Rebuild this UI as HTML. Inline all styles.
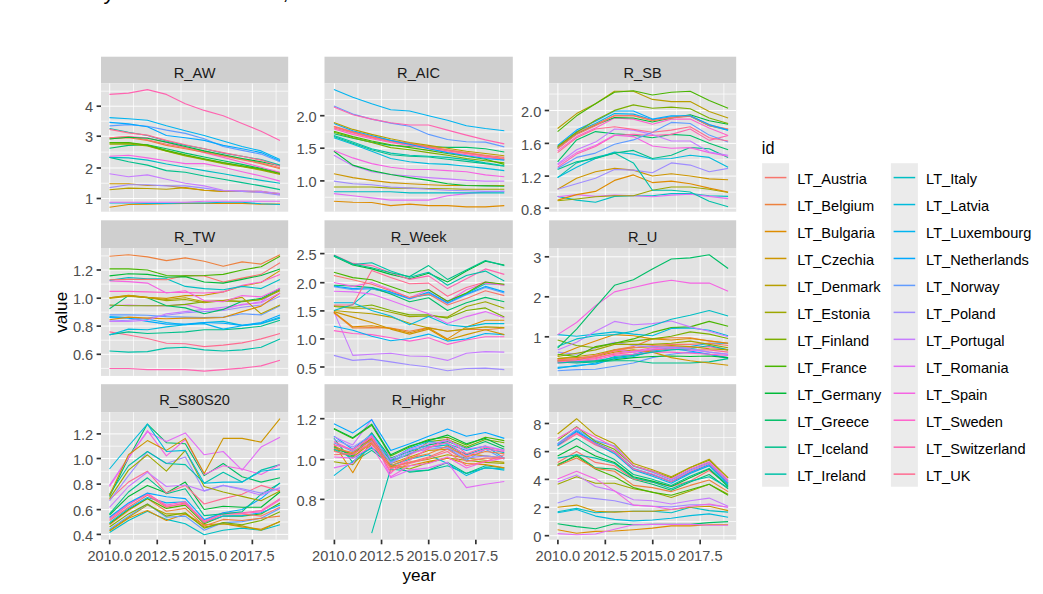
<!DOCTYPE html>
<html><head><meta charset="utf-8"><title>plot</title>
<style>html,body{margin:0;padding:0;background:#fff;}body{width:1043px;height:594px;overflow:hidden;}svg text{font-family:"Liberation Sans",sans-serif;}</style>
</head><body>
<svg width="1043" height="594" viewBox="0 0 1043 594" style="display:block">
<rect width="1043" height="594" fill="#fff"/>
<defs>
<clipPath id="c0"><rect x="101.0" y="83.2" width="187.2" height="128.5"/></clipPath>
<clipPath id="c1"><rect x="324.5" y="83.2" width="188.3" height="128.5"/></clipPath>
<clipPath id="c2"><rect x="549.1" y="83.2" width="187.1" height="128.5"/></clipPath>
<clipPath id="c3"><rect x="101.0" y="248.0" width="187.2" height="127.9"/></clipPath>
<clipPath id="c4"><rect x="324.5" y="248.0" width="188.3" height="127.9"/></clipPath>
<clipPath id="c5"><rect x="549.1" y="248.0" width="187.1" height="127.9"/></clipPath>
<clipPath id="c6"><rect x="101.0" y="412.1" width="187.2" height="127.6"/></clipPath>
<clipPath id="c7"><rect x="324.5" y="412.1" width="188.3" height="127.6"/></clipPath>
<clipPath id="c8"><rect x="549.1" y="412.1" width="187.1" height="127.6"/></clipPath>
</defs>
<text x="103.5" y="-1.5" font-family="Liberation Serif, serif" font-size="22" fill="#000">y</text>
<text x="282.5" y="-1.2" font-family="Liberation Serif, serif" font-size="22" fill="#000">,</text>
<rect x="101.0" y="56.7" width="187.2" height="26.5" fill="#CFCFCF"/>
<rect x="101.0" y="83.2" width="187.2" height="128.5" fill="#E2E2E2"/>
<g clip-path="url(#c0)">
<line x1="101.0" x2="288.2" y1="183.25" y2="183.25" stroke="#fff" stroke-width="0.7"/>
<line x1="101.0" x2="288.2" y1="152.10" y2="152.10" stroke="#fff" stroke-width="0.7"/>
<line x1="101.0" x2="288.2" y1="121.20" y2="121.20" stroke="#fff" stroke-width="0.7"/>
<line x1="101.0" x2="288.2" y1="91.20" y2="91.20" stroke="#fff" stroke-width="0.7"/>
<line x1="133.47" x2="133.47" y1="83.2" y2="211.7" stroke="#fff" stroke-width="0.7"/>
<line x1="181.03" x2="181.03" y1="83.2" y2="211.7" stroke="#fff" stroke-width="0.7"/>
<line x1="228.57" x2="228.57" y1="83.2" y2="211.7" stroke="#fff" stroke-width="0.7"/>
<line x1="276.12" x2="276.12" y1="83.2" y2="211.7" stroke="#fff" stroke-width="0.7"/>
<line x1="101.0" x2="288.2" y1="198.50" y2="198.50" stroke="#fff" stroke-width="0.95"/>
<line x1="101.0" x2="288.2" y1="168.00" y2="168.00" stroke="#fff" stroke-width="0.95"/>
<line x1="101.0" x2="288.2" y1="136.20" y2="136.20" stroke="#fff" stroke-width="0.95"/>
<line x1="101.0" x2="288.2" y1="106.20" y2="106.20" stroke="#fff" stroke-width="0.95"/>
<line x1="109.70" x2="109.70" y1="83.2" y2="211.7" stroke="#fff" stroke-width="0.95"/>
<line x1="157.25" x2="157.25" y1="83.2" y2="211.7" stroke="#fff" stroke-width="0.95"/>
<line x1="204.80" x2="204.80" y1="83.2" y2="211.7" stroke="#fff" stroke-width="0.95"/>
<line x1="252.35" x2="252.35" y1="83.2" y2="211.7" stroke="#fff" stroke-width="0.95"/>
<polyline points="109.5,189.8 128.5,188.1 147.4,188.5 166.4,189.2 185.3,187.6 204.2,190.3 223.2,191.4 242.1,191.4 261.1,191.4 280.0,194.2" fill="none" stroke="#B79F00" stroke-width="1.1" stroke-linejoin="round" stroke-linecap="butt"/>
<polyline points="109.5,183.7 128.5,183.7 147.4,185.5 166.4,185.5 185.3,188.1 204.2,190.3 223.2,191.4 242.1,191.4 261.1,192.0 280.0,193.6" fill="none" stroke="#CD9600" stroke-width="1.1" stroke-linejoin="round" stroke-linecap="butt"/>
<polyline points="109.5,187.6 128.5,184.8 147.4,184.8 166.4,185.9 185.3,185.9 204.2,188.1 223.2,190.7 242.1,191.4 261.1,192.5 280.0,195.1" fill="none" stroke="#9F8CFF" stroke-width="1.1" stroke-linejoin="round" stroke-linecap="butt"/>
<polyline points="109.5,173.8 128.5,176.7 147.4,174.9 166.4,179.3 185.3,183.3 204.2,185.9 223.2,190.3 242.1,190.7 261.1,191.4 280.0,193.6" fill="none" stroke="#C77CFF" stroke-width="1.1" stroke-linejoin="round" stroke-linecap="butt"/>
<polyline points="109.5,207.3 128.5,204.5 147.4,204.1 166.4,203.8 185.3,203.4 204.2,203.4 223.2,203.4 242.1,203.4 261.1,204.1 280.0,204.1" fill="none" stroke="#DE8C00" stroke-width="1.1" stroke-linejoin="round" stroke-linecap="butt"/>
<polyline points="109.5,203.0 128.5,203.0 147.4,203.4 166.4,203.4 185.3,203.0 204.2,203.0 223.2,202.3 242.1,202.3 261.1,203.8 280.0,204.5" fill="none" stroke="#00BBDC" stroke-width="1.1" stroke-linejoin="round" stroke-linecap="butt"/>
<polyline points="109.5,202.3 128.5,202.3 147.4,202.3 166.4,202.3 185.3,202.3 204.2,201.2 223.2,201.2 242.1,201.2 261.1,201.2 280.0,201.2" fill="none" stroke="#E36EF6" stroke-width="1.1" stroke-linejoin="round" stroke-linecap="butt"/>
<polyline points="109.5,157.4 128.5,161.8 147.4,165.1 166.4,170.6 185.3,172.3 204.2,176.0 223.2,179.3 242.1,182.6 261.1,185.9 280.0,189.6" fill="none" stroke="#00C08B" stroke-width="1.1" stroke-linejoin="round" stroke-linecap="butt"/>
<polyline points="109.5,157.4 128.5,157.9 147.4,160.1 166.4,164.0 185.3,167.3 204.2,170.6 223.2,173.8 242.1,177.1 261.1,180.4 280.0,183.3" fill="none" stroke="#00BFC4" stroke-width="1.1" stroke-linejoin="round" stroke-linecap="butt"/>
<polyline points="109.5,156.3 128.5,155.2 147.4,157.9 166.4,160.7 185.3,163.6 204.2,163.6 223.2,167.3 242.1,171.7 261.1,176.0 280.0,181.1" fill="none" stroke="#F564E3" stroke-width="1.1" stroke-linejoin="round" stroke-linecap="butt"/>
<polyline points="109.5,148.2 128.5,145.4 147.4,144.7 166.4,148.7 185.3,153.1 204.2,157.0 223.2,160.7 242.1,164.4 261.1,168.4 280.0,172.8" fill="none" stroke="#00BE67" stroke-width="1.1" stroke-linejoin="round" stroke-linecap="butt"/>
<polyline points="109.5,144.3 128.5,143.9 147.4,146.0 166.4,151.3 185.3,155.9 204.2,159.6 223.2,163.6 242.1,166.8 261.1,170.1 280.0,174.5" fill="none" stroke="#9DA700" stroke-width="1.1" stroke-linejoin="round" stroke-linecap="butt"/>
<polyline points="109.5,143.2 128.5,143.0 147.4,145.4 166.4,150.9 185.3,155.2 204.2,159.2 223.2,162.9 242.1,166.2 261.1,169.5 280.0,173.8" fill="none" stroke="#7CAE00" stroke-width="1.1" stroke-linejoin="round" stroke-linecap="butt"/>
<polyline points="109.5,142.5 128.5,142.5 147.4,145.0 166.4,150.4 185.3,154.8 204.2,158.7 223.2,162.5 242.1,165.7 261.1,169.0 280.0,173.2" fill="none" stroke="#49B500" stroke-width="1.1" stroke-linejoin="round" stroke-linecap="butt"/>
<polyline points="109.5,137.7 128.5,136.6 147.4,137.7 166.4,142.5 185.3,147.6 204.2,152.6 223.2,157.4 242.1,162.2 261.1,167.3 280.0,172.3" fill="none" stroke="#FF61CC" stroke-width="1.1" stroke-linejoin="round" stroke-linecap="butt"/>
<polyline points="109.5,138.8 128.5,137.7 147.4,140.4 166.4,145.4 185.3,148.7 204.2,152.2 223.2,155.9 242.1,159.6 261.1,163.6 280.0,168.8" fill="none" stroke="#ED813E" stroke-width="1.1" stroke-linejoin="round" stroke-linecap="butt"/>
<polyline points="109.5,137.7 128.5,136.6 147.4,139.9 166.4,144.3 185.3,147.8 204.2,151.3 223.2,155.2 242.1,159.2 261.1,162.9 280.0,167.9" fill="none" stroke="#F8766D" stroke-width="1.1" stroke-linejoin="round" stroke-linecap="butt"/>
<polyline points="109.5,139.0 128.5,137.3 147.4,138.2 166.4,142.1 185.3,146.5 204.2,150.9 223.2,154.8 242.1,158.5 261.1,161.8 280.0,165.7" fill="none" stroke="#00BA38" stroke-width="1.1" stroke-linejoin="round" stroke-linecap="butt"/>
<polyline points="109.5,128.5 128.5,132.3 147.4,135.5 166.4,141.0 185.3,145.4 204.2,148.7 223.2,153.1 242.1,156.3 261.1,159.6 280.0,165.1" fill="none" stroke="#00C1A9" stroke-width="1.1" stroke-linejoin="round" stroke-linecap="butt"/>
<polyline points="109.5,129.4 128.5,132.9 147.4,135.1 166.4,140.4 185.3,144.7 204.2,148.7 223.2,152.6 242.1,156.3 261.1,160.1 280.0,166.2" fill="none" stroke="#FF6C91" stroke-width="1.1" stroke-linejoin="round" stroke-linecap="butt"/>
<polyline points="109.5,125.9 128.5,124.6 147.4,126.3 166.4,130.1 185.3,133.4 204.2,138.8 223.2,146.5 242.1,150.4 261.1,154.1 280.0,161.8" fill="none" stroke="#619CFF" stroke-width="1.1" stroke-linejoin="round" stroke-linecap="butt"/>
<polyline points="109.5,122.4 128.5,123.9 147.4,126.8 166.4,135.5 185.3,137.7 204.2,140.4 223.2,145.4 242.1,148.7 261.1,152.6 280.0,160.7" fill="none" stroke="#00A9FF" stroke-width="1.1" stroke-linejoin="round" stroke-linecap="butt"/>
<polyline points="109.5,117.6 128.5,118.7 147.4,120.2 166.4,125.7 185.3,130.7 204.2,135.5 223.2,141.0 242.1,146.5 261.1,150.9 280.0,159.6" fill="none" stroke="#00B4F0" stroke-width="1.1" stroke-linejoin="round" stroke-linecap="butt"/>
<polyline points="109.5,94.4 128.5,93.1 147.4,89.6 166.4,94.4 185.3,103.8 204.2,110.4 223.2,115.8 242.1,123.5 261.1,131.2 280.0,140.4" fill="none" stroke="#FF64B0" stroke-width="1.1" stroke-linejoin="round" stroke-linecap="butt"/>
</g>
<text x="194.6" y="77.7" text-anchor="middle" font-size="14.6" fill="#1A1A1A">R_AW</text>
<line x1="96.6" x2="101.0" y1="198.50" y2="198.50" stroke="#333" stroke-width="1.7"/>
<text x="93.2" y="204.2" text-anchor="end" font-size="14.6" fill="#4D4D4D">1</text>
<line x1="96.6" x2="101.0" y1="168.00" y2="168.00" stroke="#333" stroke-width="1.7"/>
<text x="93.2" y="173.7" text-anchor="end" font-size="14.6" fill="#4D4D4D">2</text>
<line x1="96.6" x2="101.0" y1="136.20" y2="136.20" stroke="#333" stroke-width="1.7"/>
<text x="93.2" y="141.9" text-anchor="end" font-size="14.6" fill="#4D4D4D">3</text>
<line x1="96.6" x2="101.0" y1="106.20" y2="106.20" stroke="#333" stroke-width="1.7"/>
<text x="93.2" y="111.9" text-anchor="end" font-size="14.6" fill="#4D4D4D">4</text>
<rect x="324.5" y="56.7" width="188.3" height="26.5" fill="#CFCFCF"/>
<rect x="324.5" y="83.2" width="188.3" height="128.5" fill="#E2E2E2"/>
<g clip-path="url(#c1)">
<line x1="324.5" x2="512.8" y1="197.25" y2="197.25" stroke="#fff" stroke-width="0.7"/>
<line x1="324.5" x2="512.8" y1="164.55" y2="164.55" stroke="#fff" stroke-width="0.7"/>
<line x1="324.5" x2="512.8" y1="131.95" y2="131.95" stroke="#fff" stroke-width="0.7"/>
<line x1="324.5" x2="512.8" y1="99.45" y2="99.45" stroke="#fff" stroke-width="0.7"/>
<line x1="357.97" x2="357.97" y1="83.2" y2="211.7" stroke="#fff" stroke-width="0.7"/>
<line x1="405.12" x2="405.12" y1="83.2" y2="211.7" stroke="#fff" stroke-width="0.7"/>
<line x1="452.27" x2="452.27" y1="83.2" y2="211.7" stroke="#fff" stroke-width="0.7"/>
<line x1="499.42" x2="499.42" y1="83.2" y2="211.7" stroke="#fff" stroke-width="0.7"/>
<line x1="324.5" x2="512.8" y1="180.90" y2="180.90" stroke="#fff" stroke-width="0.95"/>
<line x1="324.5" x2="512.8" y1="148.20" y2="148.20" stroke="#fff" stroke-width="0.95"/>
<line x1="324.5" x2="512.8" y1="115.70" y2="115.70" stroke="#fff" stroke-width="0.95"/>
<line x1="334.40" x2="334.40" y1="83.2" y2="211.7" stroke="#fff" stroke-width="0.95"/>
<line x1="381.55" x2="381.55" y1="83.2" y2="211.7" stroke="#fff" stroke-width="0.95"/>
<line x1="428.70" x2="428.70" y1="83.2" y2="211.7" stroke="#fff" stroke-width="0.95"/>
<line x1="475.85" x2="475.85" y1="83.2" y2="211.7" stroke="#fff" stroke-width="0.95"/>
<polyline points="333.9,201.2 352.8,202.3 371.7,202.5 390.7,205.6 409.6,204.1 428.6,205.6 447.5,205.6 466.4,206.9 485.4,206.9 504.3,205.6" fill="none" stroke="#DE8C00" stroke-width="1.1" stroke-linejoin="round" stroke-linecap="butt"/>
<polyline points="333.9,193.6 352.8,195.7 371.7,197.9 390.7,200.1 409.6,200.1 428.6,200.1 447.5,195.7 466.4,193.6 485.4,192.0 504.3,191.4" fill="none" stroke="#E36EF6" stroke-width="1.1" stroke-linejoin="round" stroke-linecap="butt"/>
<polyline points="333.9,191.8 352.8,191.8 371.7,191.8 390.7,191.8 409.6,192.9 428.6,192.9 447.5,192.9 466.4,192.9 485.4,192.9 504.3,192.9" fill="none" stroke="#00BFC4" stroke-width="1.1" stroke-linejoin="round" stroke-linecap="butt"/>
<polyline points="333.9,187.0 352.8,187.0 371.7,187.0 390.7,188.1 409.6,188.1 428.6,188.5 447.5,188.7 466.4,189.2 485.4,189.2 504.3,189.2" fill="none" stroke="#9DA700" stroke-width="1.1" stroke-linejoin="round" stroke-linecap="butt"/>
<polyline points="333.9,181.1 352.8,183.7 371.7,184.8 390.7,187.0 409.6,188.1 428.6,189.2 447.5,190.3 466.4,190.7 485.4,191.4 504.3,191.4" fill="none" stroke="#9F8CFF" stroke-width="1.1" stroke-linejoin="round" stroke-linecap="butt"/>
<polyline points="333.9,173.8 352.8,177.6 371.7,180.4 390.7,182.6 409.6,183.7 428.6,184.8 447.5,185.5 466.4,185.5 485.4,185.5 504.3,185.5" fill="none" stroke="#CD9600" stroke-width="1.1" stroke-linejoin="round" stroke-linecap="butt"/>
<polyline points="333.9,155.2 352.8,165.7 371.7,171.7 390.7,174.5 409.6,176.0 428.6,177.6 447.5,178.9 466.4,180.4 485.4,181.1 504.3,181.1" fill="none" stroke="#C77CFF" stroke-width="1.1" stroke-linejoin="round" stroke-linecap="butt"/>
<polyline points="333.9,151.3 352.8,165.1 371.7,170.6 390.7,174.5 409.6,177.6 428.6,180.4 447.5,183.7 466.4,185.5 485.4,185.9 504.3,186.3" fill="none" stroke="#00BA38" stroke-width="1.1" stroke-linejoin="round" stroke-linecap="butt"/>
<polyline points="333.9,150.4 352.8,157.9 371.7,163.6 390.7,167.3 409.6,169.5 428.6,169.5 447.5,170.6 466.4,171.7 485.4,174.9 504.3,176.7" fill="none" stroke="#F564E3" stroke-width="1.1" stroke-linejoin="round" stroke-linecap="butt"/>
<polyline points="333.9,137.7 352.8,144.3 371.7,151.3 390.7,158.5 409.6,161.8 428.6,163.6 447.5,164.4 466.4,166.2 485.4,168.4 504.3,170.6" fill="none" stroke="#00BBDC" stroke-width="1.1" stroke-linejoin="round" stroke-linecap="butt"/>
<polyline points="333.9,136.6 352.8,143.2 371.7,149.8 390.7,154.8 409.6,156.3 428.6,157.0 447.5,159.2 466.4,161.4 485.4,163.6 504.3,166.2" fill="none" stroke="#00C08B" stroke-width="1.1" stroke-linejoin="round" stroke-linecap="butt"/>
<polyline points="333.9,135.5 352.8,142.1 371.7,148.7 390.7,153.1 409.6,155.2 428.6,156.3 447.5,157.4 466.4,159.6 485.4,162.9 504.3,165.7" fill="none" stroke="#00C1A9" stroke-width="1.1" stroke-linejoin="round" stroke-linecap="butt"/>
<polyline points="333.9,133.8 352.8,138.2 371.7,142.1 390.7,145.4 409.6,146.5 428.6,146.9 447.5,147.4 466.4,147.4 485.4,148.7 504.3,152.0" fill="none" stroke="#00BE67" stroke-width="1.1" stroke-linejoin="round" stroke-linecap="butt"/>
<polyline points="333.9,132.3 352.8,137.7 371.7,142.5 390.7,147.6 409.6,149.8 428.6,152.6 447.5,155.2 466.4,158.5 485.4,160.7 504.3,162.9" fill="none" stroke="#7CAE00" stroke-width="1.1" stroke-linejoin="round" stroke-linecap="butt"/>
<polyline points="333.9,131.2 352.8,136.6 371.7,141.0 390.7,144.7 409.6,147.6 428.6,150.4 447.5,153.5 466.4,156.3 485.4,159.2 504.3,164.4" fill="none" stroke="#49B500" stroke-width="1.1" stroke-linejoin="round" stroke-linecap="butt"/>
<polyline points="333.9,129.0 352.8,134.4 371.7,138.8 390.7,142.5 409.6,145.4 428.6,148.7 447.5,152.0 466.4,154.8 485.4,157.4 504.3,159.6" fill="none" stroke="#FF61CC" stroke-width="1.1" stroke-linejoin="round" stroke-linecap="butt"/>
<polyline points="333.9,126.8 352.8,132.3 371.7,137.3 390.7,141.0 409.6,143.9 428.6,146.9 447.5,150.0 466.4,153.1 485.4,155.7 504.3,159.2" fill="none" stroke="#ED813E" stroke-width="1.1" stroke-linejoin="round" stroke-linecap="butt"/>
<polyline points="333.9,127.9 352.8,132.9 371.7,137.7 390.7,141.7 409.6,144.7 428.6,147.6 447.5,150.9 466.4,153.5 485.4,156.3 504.3,158.5" fill="none" stroke="#FF6C91" stroke-width="1.1" stroke-linejoin="round" stroke-linecap="butt"/>
<polyline points="333.9,126.3 352.8,131.6 371.7,136.6 390.7,140.4 409.6,143.2 428.6,146.5 447.5,149.8 466.4,152.6 485.4,155.2 504.3,157.4" fill="none" stroke="#F8766D" stroke-width="1.1" stroke-linejoin="round" stroke-linecap="butt"/>
<polyline points="333.9,123.5 352.8,130.7 371.7,135.5 390.7,140.4 409.6,144.3 428.6,148.7 447.5,152.6 466.4,155.7 485.4,158.5 504.3,160.1" fill="none" stroke="#00A9FF" stroke-width="1.1" stroke-linejoin="round" stroke-linecap="butt"/>
<polyline points="333.9,122.4 352.8,129.4 371.7,134.4 390.7,138.8 409.6,142.5 428.6,145.4 447.5,148.2 466.4,151.3 485.4,153.5 504.3,155.7" fill="none" stroke="#B79F00" stroke-width="1.1" stroke-linejoin="round" stroke-linecap="butt"/>
<polyline points="333.9,106.0 352.8,114.1 371.7,119.1 390.7,123.1 409.6,126.3 428.6,134.4 447.5,139.5 466.4,141.7 485.4,142.1 504.3,146.9" fill="none" stroke="#619CFF" stroke-width="1.1" stroke-linejoin="round" stroke-linecap="butt"/>
<polyline points="333.9,107.1 352.8,114.7 371.7,119.1 390.7,122.8 409.6,125.0 428.6,125.0 447.5,130.1 466.4,135.1 485.4,139.9 504.3,143.9" fill="none" stroke="#FF64B0" stroke-width="1.1" stroke-linejoin="round" stroke-linecap="butt"/>
<polyline points="333.9,89.6 352.8,97.2 371.7,103.8 390.7,109.7 409.6,111.0 428.6,115.8 447.5,120.2 466.4,125.7 485.4,128.5 504.3,130.7" fill="none" stroke="#00B4F0" stroke-width="1.1" stroke-linejoin="round" stroke-linecap="butt"/>
</g>
<text x="418.6" y="77.7" text-anchor="middle" font-size="14.6" fill="#1A1A1A">R_AIC</text>
<line x1="320.1" x2="324.5" y1="180.90" y2="180.90" stroke="#333" stroke-width="1.7"/>
<text x="316.7" y="187.1" text-anchor="end" font-size="14.6" fill="#4D4D4D">1.0</text>
<line x1="320.1" x2="324.5" y1="148.20" y2="148.20" stroke="#333" stroke-width="1.7"/>
<text x="316.7" y="154.4" text-anchor="end" font-size="14.6" fill="#4D4D4D">1.5</text>
<line x1="320.1" x2="324.5" y1="115.70" y2="115.70" stroke="#333" stroke-width="1.7"/>
<text x="316.7" y="121.9" text-anchor="end" font-size="14.6" fill="#4D4D4D">2.0</text>
<rect x="549.1" y="56.7" width="187.1" height="26.5" fill="#CFCFCF"/>
<rect x="549.1" y="83.2" width="187.1" height="128.5" fill="#E2E2E2"/>
<g clip-path="url(#c2)">
<line x1="549.1" x2="736.2" y1="192.15" y2="192.15" stroke="#fff" stroke-width="0.7"/>
<line x1="549.1" x2="736.2" y1="159.75" y2="159.75" stroke="#fff" stroke-width="0.7"/>
<line x1="549.1" x2="736.2" y1="126.95" y2="126.95" stroke="#fff" stroke-width="0.7"/>
<line x1="549.1" x2="736.2" y1="94.05" y2="94.05" stroke="#fff" stroke-width="0.7"/>
<line x1="581.61" x2="581.61" y1="83.2" y2="211.7" stroke="#fff" stroke-width="0.7"/>
<line x1="629.04" x2="629.04" y1="83.2" y2="211.7" stroke="#fff" stroke-width="0.7"/>
<line x1="676.46" x2="676.46" y1="83.2" y2="211.7" stroke="#fff" stroke-width="0.7"/>
<line x1="723.89" x2="723.89" y1="83.2" y2="211.7" stroke="#fff" stroke-width="0.7"/>
<line x1="549.1" x2="736.2" y1="208.20" y2="208.20" stroke="#fff" stroke-width="0.95"/>
<line x1="549.1" x2="736.2" y1="176.10" y2="176.10" stroke="#fff" stroke-width="0.95"/>
<line x1="549.1" x2="736.2" y1="143.40" y2="143.40" stroke="#fff" stroke-width="0.95"/>
<line x1="549.1" x2="736.2" y1="110.50" y2="110.50" stroke="#fff" stroke-width="0.95"/>
<line x1="557.90" x2="557.90" y1="83.2" y2="211.7" stroke="#fff" stroke-width="0.95"/>
<line x1="605.32" x2="605.32" y1="83.2" y2="211.7" stroke="#fff" stroke-width="0.95"/>
<line x1="652.75" x2="652.75" y1="83.2" y2="211.7" stroke="#fff" stroke-width="0.95"/>
<line x1="700.17" x2="700.17" y1="83.2" y2="211.7" stroke="#fff" stroke-width="0.95"/>
<polyline points="557.6,196.4 576.6,200.1 595.5,202.3 614.5,196.4 633.4,195.7 652.4,195.7 671.3,193.6 690.2,193.6 709.2,195.7 728.1,196.4" fill="none" stroke="#00BFC4" stroke-width="1.1" stroke-linejoin="round" stroke-linecap="butt"/>
<polyline points="557.6,196.8 576.6,194.6 595.5,196.4 614.5,195.1 633.4,195.7 652.4,196.8 671.3,195.1 690.2,194.2 709.2,196.4 728.1,198.6" fill="none" stroke="#E36EF6" stroke-width="1.1" stroke-linejoin="round" stroke-linecap="butt"/>
<polyline points="557.6,200.8 576.6,199.0 595.5,196.8 614.5,195.7 633.4,195.7 652.4,190.3 671.3,187.0 690.2,187.0 709.2,189.2 728.1,192.5" fill="none" stroke="#9DA700" stroke-width="1.1" stroke-linejoin="round" stroke-linecap="butt"/>
<polyline points="557.6,200.1 576.6,194.6 595.5,191.4 614.5,180.4 633.4,174.9 652.4,182.6 671.3,181.1 690.2,183.7 709.2,188.1 728.1,192.0" fill="none" stroke="#DE8C00" stroke-width="1.1" stroke-linejoin="round" stroke-linecap="butt"/>
<polyline points="557.6,189.2 576.6,178.2 595.5,171.7 614.5,168.4 633.4,170.1 652.4,176.0 671.3,173.8 690.2,176.0 709.2,178.9 728.1,179.8" fill="none" stroke="#CD9600" stroke-width="1.1" stroke-linejoin="round" stroke-linecap="butt"/>
<polyline points="557.6,189.2 576.6,183.7 595.5,178.2 614.5,169.5 633.4,170.1 652.4,172.8 671.3,162.9 690.2,165.1 709.2,171.7 728.1,168.4" fill="none" stroke="#9F8CFF" stroke-width="1.1" stroke-linejoin="round" stroke-linecap="butt"/>
<polyline points="557.6,177.6 576.6,162.9 595.5,157.4 614.5,153.1 633.4,162.9 652.4,190.3 671.3,190.3 690.2,192.0 709.2,201.2 728.1,206.7" fill="none" stroke="#00C1A9" stroke-width="1.1" stroke-linejoin="round" stroke-linecap="butt"/>
<polyline points="557.6,177.6 576.6,167.3 595.5,158.5 614.5,152.0 633.4,154.1 652.4,159.2 671.3,158.5 690.2,155.2 709.2,157.4 728.1,167.3" fill="none" stroke="#00BBDC" stroke-width="1.1" stroke-linejoin="round" stroke-linecap="butt"/>
<polyline points="557.6,169.5 576.6,161.8 595.5,158.5 614.5,153.1 633.4,150.4 652.4,158.5 671.3,155.2 690.2,147.6 709.2,148.7 728.1,157.4" fill="none" stroke="#00C08B" stroke-width="1.1" stroke-linejoin="round" stroke-linecap="butt"/>
<polyline points="557.6,161.8 576.6,139.9 595.5,131.6 614.5,133.8 633.4,135.1 652.4,137.7 671.3,134.4 690.2,135.5 709.2,143.2 728.1,149.8" fill="none" stroke="#00BE67" stroke-width="1.1" stroke-linejoin="round" stroke-linecap="butt"/>
<polyline points="557.6,167.3 576.6,154.1 595.5,146.5 614.5,135.5 633.4,134.4 652.4,135.5 671.3,134.4 690.2,129.0 709.2,140.4 728.1,135.5" fill="none" stroke="#FF64B0" stroke-width="1.1" stroke-linejoin="round" stroke-linecap="butt"/>
<polyline points="557.6,165.1 576.6,152.6 595.5,145.4 614.5,135.1 633.4,136.6 652.4,146.0 671.3,148.2 690.2,147.6 709.2,152.6 728.1,156.3" fill="none" stroke="#F564E3" stroke-width="1.1" stroke-linejoin="round" stroke-linecap="butt"/>
<polyline points="557.6,164.0 576.6,149.8 595.5,142.1 614.5,129.0 633.4,130.1 652.4,134.4 671.3,141.0 690.2,141.0 709.2,152.0 728.1,155.2" fill="none" stroke="#C77CFF" stroke-width="1.1" stroke-linejoin="round" stroke-linecap="butt"/>
<polyline points="557.6,168.4 576.6,157.4 595.5,153.1 614.5,144.3 633.4,139.9 652.4,132.3 671.3,122.4 690.2,123.5 709.2,135.1 728.1,142.1" fill="none" stroke="#619CFF" stroke-width="1.1" stroke-linejoin="round" stroke-linecap="butt"/>
<polyline points="557.6,152.6 576.6,137.7 595.5,129.0 614.5,126.8 633.4,129.4 652.4,132.3 671.3,130.1 690.2,126.8 709.2,137.7 728.1,141.0" fill="none" stroke="#FF6C91" stroke-width="1.1" stroke-linejoin="round" stroke-linecap="butt"/>
<polyline points="557.6,150.9 576.6,136.6 595.5,127.9 614.5,118.0 633.4,119.1 652.4,124.2 671.3,119.1 690.2,119.1 709.2,127.9 728.1,135.5" fill="none" stroke="#FF61CC" stroke-width="1.1" stroke-linejoin="round" stroke-linecap="butt"/>
<polyline points="557.6,146.9 576.6,131.6 595.5,123.5 614.5,113.6 633.4,114.1 652.4,119.8 671.3,116.9 690.2,116.3 709.2,125.7 728.1,130.1" fill="none" stroke="#00B4F0" stroke-width="1.1" stroke-linejoin="round" stroke-linecap="butt"/>
<polyline points="557.6,148.2 576.6,133.8 595.5,125.0 614.5,117.6 633.4,118.0 652.4,122.0 671.3,118.0 690.2,114.7 709.2,120.7 728.1,124.2" fill="none" stroke="#00BA38" stroke-width="1.1" stroke-linejoin="round" stroke-linecap="butt"/>
<polyline points="557.6,147.6 576.6,132.9 595.5,124.6 614.5,115.4 633.4,115.8 652.4,120.7 671.3,118.0 690.2,116.3 709.2,125.7 728.1,129.4" fill="none" stroke="#ED813E" stroke-width="1.1" stroke-linejoin="round" stroke-linecap="butt"/>
<polyline points="557.6,148.7 576.6,134.4 595.5,125.7 614.5,115.8 633.4,115.4 652.4,120.2 671.3,117.6 690.2,115.8 709.2,125.0 728.1,129.0" fill="none" stroke="#F8766D" stroke-width="1.1" stroke-linejoin="round" stroke-linecap="butt"/>
<polyline points="557.6,145.4 576.6,130.1 595.5,121.3 614.5,111.0 633.4,111.0 652.4,119.1 671.3,115.8 690.2,115.8 709.2,124.6 728.1,130.1" fill="none" stroke="#00A9FF" stroke-width="1.1" stroke-linejoin="round" stroke-linecap="butt"/>
<polyline points="557.6,146.5 576.6,132.3 595.5,120.2 614.5,110.4 633.4,104.9 652.4,108.2 671.3,107.1 690.2,108.8 709.2,118.0 728.1,123.5" fill="none" stroke="#7CAE00" stroke-width="1.1" stroke-linejoin="round" stroke-linecap="butt"/>
<polyline points="557.6,128.5 576.6,113.6 595.5,103.8 614.5,91.3 633.4,91.3 652.4,99.4 671.3,101.6 690.2,101.6 709.2,111.5 728.1,118.0" fill="none" stroke="#B79F00" stroke-width="1.1" stroke-linejoin="round" stroke-linecap="butt"/>
<polyline points="557.6,131.6 576.6,115.8 595.5,103.8 614.5,92.2 633.4,90.7 652.4,95.0 671.3,92.2 690.2,91.3 709.2,100.5 728.1,108.2" fill="none" stroke="#49B500" stroke-width="1.1" stroke-linejoin="round" stroke-linecap="butt"/>
</g>
<text x="642.6" y="77.7" text-anchor="middle" font-size="14.6" fill="#1A1A1A">R_SB</text>
<line x1="544.7" x2="549.1" y1="208.20" y2="208.20" stroke="#333" stroke-width="1.7"/>
<text x="541.3" y="214.6" text-anchor="end" font-size="14.6" fill="#4D4D4D">0.8</text>
<line x1="544.7" x2="549.1" y1="176.10" y2="176.10" stroke="#333" stroke-width="1.7"/>
<text x="541.3" y="182.5" text-anchor="end" font-size="14.6" fill="#4D4D4D">1.2</text>
<line x1="544.7" x2="549.1" y1="143.40" y2="143.40" stroke="#333" stroke-width="1.7"/>
<text x="541.3" y="149.8" text-anchor="end" font-size="14.6" fill="#4D4D4D">1.6</text>
<line x1="544.7" x2="549.1" y1="110.50" y2="110.50" stroke="#333" stroke-width="1.7"/>
<text x="541.3" y="116.9" text-anchor="end" font-size="14.6" fill="#4D4D4D">2.0</text>
<rect x="101.0" y="220.3" width="187.2" height="27.7" fill="#CFCFCF"/>
<rect x="101.0" y="248.0" width="187.2" height="127.9" fill="#E2E2E2"/>
<g clip-path="url(#c3)">
<line x1="101.0" x2="288.2" y1="368.40" y2="368.40" stroke="#fff" stroke-width="0.7"/>
<line x1="101.0" x2="288.2" y1="340.20" y2="340.20" stroke="#fff" stroke-width="0.7"/>
<line x1="101.0" x2="288.2" y1="312.15" y2="312.15" stroke="#fff" stroke-width="0.7"/>
<line x1="101.0" x2="288.2" y1="284.10" y2="284.10" stroke="#fff" stroke-width="0.7"/>
<line x1="101.0" x2="288.2" y1="255.90" y2="255.90" stroke="#fff" stroke-width="0.7"/>
<line x1="133.47" x2="133.47" y1="248.0" y2="375.9" stroke="#fff" stroke-width="0.7"/>
<line x1="181.03" x2="181.03" y1="248.0" y2="375.9" stroke="#fff" stroke-width="0.7"/>
<line x1="228.57" x2="228.57" y1="248.0" y2="375.9" stroke="#fff" stroke-width="0.7"/>
<line x1="276.12" x2="276.12" y1="248.0" y2="375.9" stroke="#fff" stroke-width="0.7"/>
<line x1="101.0" x2="288.2" y1="354.30" y2="354.30" stroke="#fff" stroke-width="0.95"/>
<line x1="101.0" x2="288.2" y1="326.10" y2="326.10" stroke="#fff" stroke-width="0.95"/>
<line x1="101.0" x2="288.2" y1="298.20" y2="298.20" stroke="#fff" stroke-width="0.95"/>
<line x1="101.0" x2="288.2" y1="270.00" y2="270.00" stroke="#fff" stroke-width="0.95"/>
<line x1="109.70" x2="109.70" y1="248.0" y2="375.9" stroke="#fff" stroke-width="0.95"/>
<line x1="157.25" x2="157.25" y1="248.0" y2="375.9" stroke="#fff" stroke-width="0.95"/>
<line x1="204.80" x2="204.80" y1="248.0" y2="375.9" stroke="#fff" stroke-width="0.95"/>
<line x1="252.35" x2="252.35" y1="248.0" y2="375.9" stroke="#fff" stroke-width="0.95"/>
<polyline points="109.5,368.5 128.5,368.5 147.4,369.6 166.4,369.6 185.3,369.6 204.2,371.1 223.2,369.6 242.1,368.1 261.1,365.9 280.0,360.2" fill="none" stroke="#FF64B0" stroke-width="1.1" stroke-linejoin="round" stroke-linecap="butt"/>
<polyline points="109.5,351.0 128.5,352.1 147.4,351.6 166.4,348.1 185.3,347.3 204.2,349.9 223.2,351.0 242.1,349.9 261.1,347.3 280.0,338.9" fill="none" stroke="#00C1A9" stroke-width="1.1" stroke-linejoin="round" stroke-linecap="butt"/>
<polyline points="109.5,331.9 128.5,335.0 147.4,338.5 166.4,343.3 185.3,343.8 204.2,346.6 223.2,345.1 242.1,342.9 261.1,338.9 280.0,333.5" fill="none" stroke="#FF6C91" stroke-width="1.1" stroke-linejoin="round" stroke-linecap="butt"/>
<polyline points="109.5,334.6 128.5,331.9 147.4,333.5 166.4,332.8 185.3,331.9 204.2,329.7 223.2,329.7 242.1,328.4 261.1,326.2 280.0,320.3" fill="none" stroke="#00C08B" stroke-width="1.1" stroke-linejoin="round" stroke-linecap="butt"/>
<polyline points="109.5,335.0 128.5,329.1 147.4,329.7 166.4,326.9 185.3,324.7 204.2,322.5 223.2,321.4 242.1,325.4 261.1,323.6 280.0,318.1" fill="none" stroke="#00BBDC" stroke-width="1.1" stroke-linejoin="round" stroke-linecap="butt"/>
<polyline points="109.5,316.6 128.5,317.5 147.4,319.2 166.4,322.5 185.3,324.7 204.2,323.6 223.2,329.1 242.1,325.8 261.1,323.6 280.0,317.1" fill="none" stroke="#00B4F0" stroke-width="1.1" stroke-linejoin="round" stroke-linecap="butt"/>
<polyline points="109.5,317.5 128.5,318.1 147.4,321.4 166.4,324.1 185.3,324.1 204.2,322.5 223.2,323.2 242.1,325.4 261.1,322.5 280.0,314.9" fill="none" stroke="#00A9FF" stroke-width="1.1" stroke-linejoin="round" stroke-linecap="butt"/>
<polyline points="109.5,321.0 128.5,320.3 147.4,318.1 166.4,315.3 185.3,312.7 204.2,311.6 223.2,310.5 242.1,307.2 261.1,305.0 280.0,296.3" fill="none" stroke="#9F8CFF" stroke-width="1.1" stroke-linejoin="round" stroke-linecap="butt"/>
<polyline points="109.5,314.9 128.5,314.9 147.4,315.3 166.4,316.6 185.3,317.1 204.2,317.5 223.2,317.1 242.1,313.8 261.1,314.9 280.0,305.7" fill="none" stroke="#619CFF" stroke-width="1.1" stroke-linejoin="round" stroke-linecap="butt"/>
<polyline points="109.5,319.7 128.5,317.1 147.4,318.1 166.4,318.8 185.3,318.1 204.2,318.1 223.2,317.5 242.1,311.6 261.1,306.1 280.0,293.0" fill="none" stroke="#DE8C00" stroke-width="1.1" stroke-linejoin="round" stroke-linecap="butt"/>
<polyline points="109.5,321.4 128.5,321.4 147.4,320.3 166.4,313.8 185.3,311.6 204.2,309.4 223.2,307.2 242.1,305.0 261.1,301.7 280.0,288.2" fill="none" stroke="#C77CFF" stroke-width="1.1" stroke-linejoin="round" stroke-linecap="butt"/>
<polyline points="109.5,305.7 128.5,305.0 147.4,305.7 166.4,305.7 185.3,304.4 204.2,309.4 223.2,309.4 242.1,304.4 261.1,302.8 280.0,293.0" fill="none" stroke="#E36EF6" stroke-width="1.1" stroke-linejoin="round" stroke-linecap="butt"/>
<polyline points="109.5,305.0 128.5,305.7 147.4,305.7 166.4,305.7 185.3,304.4 204.2,301.7 223.2,300.6 242.1,301.7 261.1,299.5 280.0,289.7" fill="none" stroke="#7CAE00" stroke-width="1.1" stroke-linejoin="round" stroke-linecap="butt"/>
<polyline points="109.5,308.7 128.5,295.6 147.4,297.8 166.4,305.7 185.3,307.9 204.2,313.8 223.2,309.4 242.1,301.3 261.1,298.4 280.0,288.6" fill="none" stroke="#00BE67" stroke-width="1.1" stroke-linejoin="round" stroke-linecap="butt"/>
<polyline points="109.5,297.8 128.5,295.6 147.4,297.4 166.4,300.6 185.3,299.5 204.2,302.8 223.2,300.6 242.1,301.3 261.1,299.5 280.0,290.8" fill="none" stroke="#9DA700" stroke-width="1.1" stroke-linejoin="round" stroke-linecap="butt"/>
<polyline points="109.5,298.4 128.5,296.3 147.4,297.8 166.4,299.5 185.3,297.8 204.2,301.7 223.2,300.6 242.1,297.4 261.1,313.8 280.0,305.0" fill="none" stroke="#B79F00" stroke-width="1.1" stroke-linejoin="round" stroke-linecap="butt"/>
<polyline points="109.5,297.8 128.5,295.2 147.4,297.4 166.4,298.4 185.3,295.6 204.2,295.2 223.2,291.9 242.1,286.0 261.1,282.5 280.0,270.6" fill="none" stroke="#CD9600" stroke-width="1.1" stroke-linejoin="round" stroke-linecap="butt"/>
<polyline points="109.5,291.4 128.5,291.4 147.4,291.9 166.4,292.5 185.3,292.5 204.2,293.0 223.2,291.9 242.1,285.3 261.1,282.0 280.0,274.4" fill="none" stroke="#FF61CC" stroke-width="1.1" stroke-linejoin="round" stroke-linecap="butt"/>
<polyline points="109.5,280.9 128.5,281.6 147.4,283.1 166.4,293.0 185.3,290.8 204.2,300.6 223.2,301.7 242.1,295.6 261.1,296.9 280.0,288.2" fill="none" stroke="#F564E3" stroke-width="1.1" stroke-linejoin="round" stroke-linecap="butt"/>
<polyline points="109.5,280.3 128.5,277.6 147.4,278.7 166.4,278.7 185.3,286.4 204.2,288.6 223.2,289.7 242.1,286.4 261.1,288.6 280.0,279.4" fill="none" stroke="#00BFC4" stroke-width="1.1" stroke-linejoin="round" stroke-linecap="butt"/>
<polyline points="109.5,279.8 128.5,279.4 147.4,279.4 166.4,279.8 185.3,275.5 204.2,275.9 223.2,282.0 242.1,278.1 261.1,274.4 280.0,262.8" fill="none" stroke="#F8766D" stroke-width="1.1" stroke-linejoin="round" stroke-linecap="butt"/>
<polyline points="109.5,275.9 128.5,273.7 147.4,274.4 166.4,277.2 185.3,276.6 204.2,282.0 223.2,283.1 242.1,279.4 261.1,275.5 280.0,268.9" fill="none" stroke="#00BA38" stroke-width="1.1" stroke-linejoin="round" stroke-linecap="butt"/>
<polyline points="109.5,268.9 128.5,268.9 147.4,270.0 166.4,275.5 185.3,275.9 204.2,275.5 223.2,274.4 242.1,270.0 261.1,266.7 280.0,256.2" fill="none" stroke="#49B500" stroke-width="1.1" stroke-linejoin="round" stroke-linecap="butt"/>
<polyline points="109.5,256.2 128.5,254.7 147.4,256.9 166.4,260.6 185.3,257.9 204.2,261.2 223.2,266.3 242.1,261.9 261.1,264.1 280.0,254.7" fill="none" stroke="#ED813E" stroke-width="1.1" stroke-linejoin="round" stroke-linecap="butt"/>
</g>
<text x="194.6" y="241.7" text-anchor="middle" font-size="14.6" fill="#1A1A1A">R_TW</text>
<line x1="96.6" x2="101.0" y1="354.30" y2="354.30" stroke="#333" stroke-width="1.7"/>
<text x="93.2" y="360.2" text-anchor="end" font-size="14.6" fill="#4D4D4D">0.6</text>
<line x1="96.6" x2="101.0" y1="326.10" y2="326.10" stroke="#333" stroke-width="1.7"/>
<text x="93.2" y="332.0" text-anchor="end" font-size="14.6" fill="#4D4D4D">0.8</text>
<line x1="96.6" x2="101.0" y1="298.20" y2="298.20" stroke="#333" stroke-width="1.7"/>
<text x="93.2" y="304.1" text-anchor="end" font-size="14.6" fill="#4D4D4D">1.0</text>
<line x1="96.6" x2="101.0" y1="270.00" y2="270.00" stroke="#333" stroke-width="1.7"/>
<text x="93.2" y="275.9" text-anchor="end" font-size="14.6" fill="#4D4D4D">1.2</text>
<rect x="324.5" y="220.3" width="188.3" height="27.7" fill="#CFCFCF"/>
<rect x="324.5" y="248.0" width="188.3" height="127.9" fill="#E2E2E2"/>
<g clip-path="url(#c4)">
<line x1="324.5" x2="512.8" y1="352.95" y2="352.95" stroke="#fff" stroke-width="0.7"/>
<line x1="324.5" x2="512.8" y1="324.90" y2="324.90" stroke="#fff" stroke-width="0.7"/>
<line x1="324.5" x2="512.8" y1="296.80" y2="296.80" stroke="#fff" stroke-width="0.7"/>
<line x1="324.5" x2="512.8" y1="268.15" y2="268.15" stroke="#fff" stroke-width="0.7"/>
<line x1="357.97" x2="357.97" y1="248.0" y2="375.9" stroke="#fff" stroke-width="0.7"/>
<line x1="405.12" x2="405.12" y1="248.0" y2="375.9" stroke="#fff" stroke-width="0.7"/>
<line x1="452.27" x2="452.27" y1="248.0" y2="375.9" stroke="#fff" stroke-width="0.7"/>
<line x1="499.42" x2="499.42" y1="248.0" y2="375.9" stroke="#fff" stroke-width="0.7"/>
<line x1="324.5" x2="512.8" y1="367.00" y2="367.00" stroke="#fff" stroke-width="0.95"/>
<line x1="324.5" x2="512.8" y1="338.90" y2="338.90" stroke="#fff" stroke-width="0.95"/>
<line x1="324.5" x2="512.8" y1="310.90" y2="310.90" stroke="#fff" stroke-width="0.95"/>
<line x1="324.5" x2="512.8" y1="282.70" y2="282.70" stroke="#fff" stroke-width="0.95"/>
<line x1="324.5" x2="512.8" y1="253.60" y2="253.60" stroke="#fff" stroke-width="0.95"/>
<line x1="334.40" x2="334.40" y1="248.0" y2="375.9" stroke="#fff" stroke-width="0.95"/>
<line x1="381.55" x2="381.55" y1="248.0" y2="375.9" stroke="#fff" stroke-width="0.95"/>
<line x1="428.70" x2="428.70" y1="248.0" y2="375.9" stroke="#fff" stroke-width="0.95"/>
<line x1="475.85" x2="475.85" y1="248.0" y2="375.9" stroke="#fff" stroke-width="0.95"/>
<polyline points="333.9,355.4 352.8,360.4 371.7,359.1 390.7,361.9 409.6,364.8 428.6,367.0 447.5,370.7 466.4,368.5 485.4,368.1 504.3,369.6" fill="none" stroke="#9F8CFF" stroke-width="1.1" stroke-linejoin="round" stroke-linecap="butt"/>
<polyline points="333.9,311.6 352.8,355.4 371.7,354.3 390.7,353.2 409.6,356.0 428.6,356.5 447.5,360.4 466.4,353.2 485.4,351.6 504.3,352.1" fill="none" stroke="#C77CFF" stroke-width="1.1" stroke-linejoin="round" stroke-linecap="butt"/>
<polyline points="333.9,330.6 352.8,333.5 371.7,334.6 390.7,337.8 409.6,341.1 428.6,337.8 447.5,344.4 466.4,340.0 485.4,336.8 504.3,336.8" fill="none" stroke="#FF61CC" stroke-width="1.1" stroke-linejoin="round" stroke-linecap="butt"/>
<polyline points="333.9,326.2 352.8,330.2 371.7,336.3 390.7,340.7 409.6,338.5 428.6,334.1 447.5,341.1 466.4,338.9 485.4,333.5 504.3,334.6" fill="none" stroke="#00B4F0" stroke-width="1.1" stroke-linejoin="round" stroke-linecap="butt"/>
<polyline points="333.9,312.7 352.8,328.0 371.7,327.6 390.7,328.0 409.6,331.3 428.6,327.6 447.5,331.3 466.4,329.1 485.4,329.7 504.3,328.0" fill="none" stroke="#ED813E" stroke-width="1.1" stroke-linejoin="round" stroke-linecap="butt"/>
<polyline points="333.9,311.6 352.8,317.1 371.7,322.5 390.7,329.1 409.6,334.1 428.6,329.1 447.5,340.0 466.4,334.6 485.4,329.7 504.3,334.6" fill="none" stroke="#CD9600" stroke-width="1.1" stroke-linejoin="round" stroke-linecap="butt"/>
<polyline points="333.9,312.2 352.8,326.9 371.7,325.8 390.7,328.4 409.6,332.8 428.6,328.0 447.5,338.9 466.4,326.9 485.4,320.3 504.3,320.3" fill="none" stroke="#DE8C00" stroke-width="1.1" stroke-linejoin="round" stroke-linecap="butt"/>
<polyline points="333.9,310.5 352.8,312.2 371.7,313.8 390.7,317.1 409.6,323.2 428.6,328.0 447.5,331.3 466.4,329.1 485.4,326.9 504.3,327.6" fill="none" stroke="#B79F00" stroke-width="1.1" stroke-linejoin="round" stroke-linecap="butt"/>
<polyline points="333.9,306.5 352.8,308.3 371.7,308.3 390.7,312.2 409.6,316.6 428.6,316.0 447.5,317.1 466.4,306.5 485.4,301.7 504.3,308.3" fill="none" stroke="#9DA700" stroke-width="1.1" stroke-linejoin="round" stroke-linecap="butt"/>
<polyline points="333.9,305.7 352.8,307.2 371.7,305.0 390.7,310.5 409.6,314.9 428.6,314.9 447.5,318.1 466.4,310.5 485.4,307.9 504.3,317.1" fill="none" stroke="#7CAE00" stroke-width="1.1" stroke-linejoin="round" stroke-linecap="butt"/>
<polyline points="333.9,302.8 352.8,302.8 371.7,310.5 390.7,316.0 409.6,324.7 428.6,316.6 447.5,324.7 466.4,326.9 485.4,323.6 504.3,323.6" fill="none" stroke="#00BBDC" stroke-width="1.1" stroke-linejoin="round" stroke-linecap="butt"/>
<polyline points="333.9,310.5 352.8,304.4 371.7,288.6 390.7,293.0 409.6,297.8 428.6,294.7 447.5,301.3 466.4,293.4 485.4,283.8 504.3,284.7" fill="none" stroke="#00BFC4" stroke-width="1.1" stroke-linejoin="round" stroke-linecap="butt"/>
<polyline points="333.9,291.2 352.8,291.9 371.7,294.1 390.7,300.6 409.6,307.2 428.6,313.8 447.5,323.6 466.4,316.6 485.4,311.6 504.3,318.1" fill="none" stroke="#E36EF6" stroke-width="1.1" stroke-linejoin="round" stroke-linecap="butt"/>
<polyline points="333.9,286.8 352.8,289.7 371.7,288.6 390.7,293.0 409.6,299.1 428.6,293.0 447.5,303.5 466.4,294.7 485.4,287.5 504.3,293.0" fill="none" stroke="#619CFF" stroke-width="1.1" stroke-linejoin="round" stroke-linecap="butt"/>
<polyline points="333.9,286.0 352.8,288.6 371.7,287.5 390.7,291.9 409.6,298.4 428.6,291.9 447.5,302.8 466.4,294.1 485.4,286.4 504.3,291.9" fill="none" stroke="#00A9FF" stroke-width="1.1" stroke-linejoin="round" stroke-linecap="butt"/>
<polyline points="333.9,285.3 352.8,286.0 371.7,287.5 390.7,294.1 409.6,301.7 428.6,297.8 447.5,310.5 466.4,302.8 485.4,297.4 504.3,301.7" fill="none" stroke="#00BE67" stroke-width="1.1" stroke-linejoin="round" stroke-linecap="butt"/>
<polyline points="333.9,282.5 352.8,286.4 371.7,282.5 390.7,289.7 409.6,297.8 428.6,289.7 447.5,301.7 466.4,289.7 485.4,283.1 504.3,285.3" fill="none" stroke="#F564E3" stroke-width="1.1" stroke-linejoin="round" stroke-linecap="butt"/>
<polyline points="333.9,305.0 352.8,305.0 371.7,270.6 390.7,277.6 409.6,283.8 428.6,283.1 447.5,296.3 466.4,287.5 485.4,282.0 504.3,284.7" fill="none" stroke="#FF6C91" stroke-width="1.1" stroke-linejoin="round" stroke-linecap="butt"/>
<polyline points="333.9,275.5 352.8,279.8 371.7,284.2 390.7,290.8 409.6,297.4 428.6,294.1 447.5,305.0 466.4,298.4 485.4,290.8 504.3,295.6" fill="none" stroke="#F8766D" stroke-width="1.1" stroke-linejoin="round" stroke-linecap="butt"/>
<polyline points="333.9,272.2 352.8,277.6 371.7,279.8 390.7,286.4 409.6,293.0 428.6,289.7 447.5,301.3 466.4,293.0 485.4,282.0 504.3,284.2" fill="none" stroke="#49B500" stroke-width="1.1" stroke-linejoin="round" stroke-linecap="butt"/>
<polyline points="333.9,256.2 352.8,265.0 371.7,268.9 390.7,274.4 409.6,278.7 428.6,273.3 447.5,282.0 466.4,271.1 485.4,261.2 504.3,265.0" fill="none" stroke="#00BA38" stroke-width="1.1" stroke-linejoin="round" stroke-linecap="butt"/>
<polyline points="333.9,254.9 352.8,263.4 371.7,265.6 390.7,272.8 409.6,279.4 428.6,275.9 447.5,288.6 466.4,278.7 485.4,268.9 504.3,274.4" fill="none" stroke="#FF64B0" stroke-width="1.1" stroke-linejoin="round" stroke-linecap="butt"/>
<polyline points="333.9,255.8 352.8,264.5 371.7,262.8 390.7,271.1 409.6,277.2 428.6,272.2 447.5,285.3 466.4,275.5 485.4,271.1 504.3,280.9" fill="none" stroke="#00C1A9" stroke-width="1.1" stroke-linejoin="round" stroke-linecap="butt"/>
<polyline points="333.9,255.3 352.8,264.1 371.7,267.8 390.7,272.8 409.6,276.6 428.6,265.6 447.5,279.4 466.4,270.0 485.4,260.6 504.3,265.6" fill="none" stroke="#00C08B" stroke-width="1.1" stroke-linejoin="round" stroke-linecap="butt"/>
</g>
<text x="418.6" y="241.7" text-anchor="middle" font-size="14.6" fill="#1A1A1A">R_Week</text>
<line x1="320.1" x2="324.5" y1="367.00" y2="367.00" stroke="#333" stroke-width="1.7"/>
<text x="316.7" y="373.5" text-anchor="end" font-size="14.6" fill="#4D4D4D">0.5</text>
<line x1="320.1" x2="324.5" y1="338.90" y2="338.90" stroke="#333" stroke-width="1.7"/>
<text x="316.7" y="345.4" text-anchor="end" font-size="14.6" fill="#4D4D4D">1.0</text>
<line x1="320.1" x2="324.5" y1="310.90" y2="310.90" stroke="#333" stroke-width="1.7"/>
<text x="316.7" y="317.4" text-anchor="end" font-size="14.6" fill="#4D4D4D">1.5</text>
<line x1="320.1" x2="324.5" y1="282.70" y2="282.70" stroke="#333" stroke-width="1.7"/>
<text x="316.7" y="289.2" text-anchor="end" font-size="14.6" fill="#4D4D4D">2.0</text>
<line x1="320.1" x2="324.5" y1="253.60" y2="253.60" stroke="#333" stroke-width="1.7"/>
<text x="316.7" y="260.1" text-anchor="end" font-size="14.6" fill="#4D4D4D">2.5</text>
<rect x="549.1" y="220.3" width="187.1" height="27.7" fill="#CFCFCF"/>
<rect x="549.1" y="248.0" width="187.1" height="127.9" fill="#E2E2E2"/>
<g clip-path="url(#c5)">
<line x1="549.1" x2="736.2" y1="356.80" y2="356.80" stroke="#fff" stroke-width="0.7"/>
<line x1="549.1" x2="736.2" y1="316.80" y2="316.80" stroke="#fff" stroke-width="0.7"/>
<line x1="549.1" x2="736.2" y1="276.80" y2="276.80" stroke="#fff" stroke-width="0.7"/>
<line x1="581.61" x2="581.61" y1="248.0" y2="375.9" stroke="#fff" stroke-width="0.7"/>
<line x1="629.04" x2="629.04" y1="248.0" y2="375.9" stroke="#fff" stroke-width="0.7"/>
<line x1="676.46" x2="676.46" y1="248.0" y2="375.9" stroke="#fff" stroke-width="0.7"/>
<line x1="723.89" x2="723.89" y1="248.0" y2="375.9" stroke="#fff" stroke-width="0.7"/>
<line x1="549.1" x2="736.2" y1="336.80" y2="336.80" stroke="#fff" stroke-width="0.95"/>
<line x1="549.1" x2="736.2" y1="296.80" y2="296.80" stroke="#fff" stroke-width="0.95"/>
<line x1="549.1" x2="736.2" y1="256.80" y2="256.80" stroke="#fff" stroke-width="0.95"/>
<line x1="557.90" x2="557.90" y1="248.0" y2="375.9" stroke="#fff" stroke-width="0.95"/>
<line x1="605.32" x2="605.32" y1="248.0" y2="375.9" stroke="#fff" stroke-width="0.95"/>
<line x1="652.75" x2="652.75" y1="248.0" y2="375.9" stroke="#fff" stroke-width="0.95"/>
<line x1="700.17" x2="700.17" y1="248.0" y2="375.9" stroke="#fff" stroke-width="0.95"/>
<polyline points="557.6,370.7 576.6,369.6 595.5,369.2 614.5,366.3 633.4,363.0 652.4,357.6 671.3,354.3 690.2,352.1 709.2,354.3 728.1,358.6" fill="none" stroke="#619CFF" stroke-width="1.1" stroke-linejoin="round" stroke-linecap="butt"/>
<polyline points="557.6,368.5 576.6,365.2 595.5,364.1 614.5,358.6 633.4,356.5 652.4,351.0 671.3,348.8 690.2,351.0 709.2,354.3 728.1,357.6" fill="none" stroke="#00A9FF" stroke-width="1.1" stroke-linejoin="round" stroke-linecap="butt"/>
<polyline points="557.6,367.4 576.6,366.3 595.5,363.0 614.5,356.5 633.4,354.3 652.4,349.9 671.3,347.7 690.2,346.6 709.2,343.3 728.1,343.3" fill="none" stroke="#00B4F0" stroke-width="1.1" stroke-linejoin="round" stroke-linecap="butt"/>
<polyline points="557.6,361.9 576.6,363.0 595.5,361.9 614.5,360.8 633.4,360.8 652.4,363.0 671.3,363.0 690.2,363.0 709.2,361.9 728.1,358.6" fill="none" stroke="#00C08B" stroke-width="1.1" stroke-linejoin="round" stroke-linecap="butt"/>
<polyline points="557.6,360.8 576.6,361.9 595.5,360.8 614.5,359.7 633.4,357.6 652.4,356.5 671.3,356.0 690.2,356.5 709.2,356.0 728.1,357.6" fill="none" stroke="#00BA38" stroke-width="1.1" stroke-linejoin="round" stroke-linecap="butt"/>
<polyline points="557.6,358.6 576.6,357.6 595.5,356.5 614.5,352.1 633.4,349.9 652.4,352.1 671.3,357.6 690.2,360.8 709.2,363.0 728.1,365.2" fill="none" stroke="#CD9600" stroke-width="1.1" stroke-linejoin="round" stroke-linecap="butt"/>
<polyline points="557.6,363.0 576.6,361.9 595.5,359.7 614.5,355.4 633.4,354.3 652.4,352.1 671.3,352.1 690.2,353.2 709.2,354.3 728.1,355.4" fill="none" stroke="#FF61CC" stroke-width="1.1" stroke-linejoin="round" stroke-linecap="butt"/>
<polyline points="557.6,360.8 576.6,359.7 595.5,357.6 614.5,354.3 633.4,352.1 652.4,349.9 671.3,348.8 690.2,349.9 709.2,349.9 728.1,352.1" fill="none" stroke="#FF6C91" stroke-width="1.1" stroke-linejoin="round" stroke-linecap="butt"/>
<polyline points="557.6,361.9 576.6,360.8 595.5,358.6 614.5,353.2 633.4,351.0 652.4,347.7 671.3,346.6 690.2,347.3 709.2,346.6 728.1,349.9" fill="none" stroke="#FF64B0" stroke-width="1.1" stroke-linejoin="round" stroke-linecap="butt"/>
<polyline points="557.6,359.7 576.6,360.8 595.5,356.5 614.5,349.9 633.4,352.1 652.4,348.8 671.3,347.7 690.2,349.9 709.2,352.1 728.1,354.3" fill="none" stroke="#E36EF6" stroke-width="1.1" stroke-linejoin="round" stroke-linecap="butt"/>
<polyline points="557.6,363.0 576.6,361.9 595.5,360.8 614.5,357.6 633.4,355.4 652.4,352.1 671.3,349.9 690.2,348.8 709.2,345.5 728.1,349.9" fill="none" stroke="#00C1A9" stroke-width="1.1" stroke-linejoin="round" stroke-linecap="butt"/>
<polyline points="557.6,358.6 576.6,356.5 595.5,354.3 614.5,349.9 633.4,347.7 652.4,346.6 671.3,345.5 690.2,346.6 709.2,348.8 728.1,349.9" fill="none" stroke="#B79F00" stroke-width="1.1" stroke-linejoin="round" stroke-linecap="butt"/>
<polyline points="557.6,359.7 576.6,358.6 595.5,355.4 614.5,351.0 633.4,347.7 652.4,345.5 671.3,344.4 690.2,344.4 709.2,343.3 728.1,345.5" fill="none" stroke="#F8766D" stroke-width="1.1" stroke-linejoin="round" stroke-linecap="butt"/>
<polyline points="557.6,360.8 576.6,359.7 595.5,356.5 614.5,349.9 633.4,346.6 652.4,338.9 671.3,337.8 690.2,337.8 709.2,341.1 728.1,343.3" fill="none" stroke="#ED813E" stroke-width="1.1" stroke-linejoin="round" stroke-linecap="butt"/>
<polyline points="557.6,352.1 576.6,354.3 595.5,347.7 614.5,342.2 633.4,345.5 652.4,346.6 671.3,347.3 690.2,348.8 709.2,352.1 728.1,354.3" fill="none" stroke="#9F8CFF" stroke-width="1.1" stroke-linejoin="round" stroke-linecap="butt"/>
<polyline points="557.6,356.5 576.6,353.2 595.5,349.9 614.5,344.4 633.4,344.4 652.4,344.4 671.3,343.3 690.2,341.1 709.2,344.4 728.1,347.7" fill="none" stroke="#9DA700" stroke-width="1.1" stroke-linejoin="round" stroke-linecap="butt"/>
<polyline points="557.6,355.4 576.6,347.7 595.5,341.1 614.5,334.6 633.4,335.7 652.4,338.9 671.3,340.0 690.2,338.5 709.2,340.7 728.1,343.3" fill="none" stroke="#DE8C00" stroke-width="1.1" stroke-linejoin="round" stroke-linecap="butt"/>
<polyline points="557.6,340.0 576.6,345.5 595.5,347.7 614.5,343.3 633.4,341.1 652.4,338.9 671.3,336.3 690.2,331.9 709.2,334.1 728.1,338.5" fill="none" stroke="#7CAE00" stroke-width="1.1" stroke-linejoin="round" stroke-linecap="butt"/>
<polyline points="557.6,354.3 576.6,356.5 595.5,346.6 614.5,343.3 633.4,338.9 652.4,332.4 671.3,327.6 690.2,326.9 709.2,321.4 728.1,326.2" fill="none" stroke="#49B500" stroke-width="1.1" stroke-linejoin="round" stroke-linecap="butt"/>
<polyline points="557.6,334.6 576.6,336.3 595.5,334.1 614.5,331.9 633.4,334.1 652.4,335.7 671.3,328.4 690.2,328.0 709.2,330.2 728.1,335.7" fill="none" stroke="#00BBDC" stroke-width="1.1" stroke-linejoin="round" stroke-linecap="butt"/>
<polyline points="557.6,349.9 576.6,342.2 595.5,331.3 614.5,321.4 633.4,324.7 652.4,323.6 671.3,321.0 690.2,326.9 709.2,331.3 728.1,336.8" fill="none" stroke="#C77CFF" stroke-width="1.1" stroke-linejoin="round" stroke-linecap="butt"/>
<polyline points="557.6,346.6 576.6,338.9 595.5,335.7 614.5,334.6 633.4,331.3 652.4,325.8 671.3,319.2 690.2,315.3 709.2,310.5 728.1,316.0" fill="none" stroke="#00BFC4" stroke-width="1.1" stroke-linejoin="round" stroke-linecap="butt"/>
<polyline points="557.6,334.6 576.6,322.5 595.5,305.7 614.5,291.9 633.4,287.5 652.4,283.1 671.3,280.3 690.2,283.1 709.2,283.1 728.1,291.2" fill="none" stroke="#F564E3" stroke-width="1.1" stroke-linejoin="round" stroke-linecap="butt"/>
<polyline points="557.6,348.1 576.6,329.1 595.5,307.2 614.5,285.3 633.4,279.8 652.4,268.9 671.3,259.0 690.2,257.9 709.2,254.7 728.1,268.5" fill="none" stroke="#00BE67" stroke-width="1.1" stroke-linejoin="round" stroke-linecap="butt"/>
</g>
<text x="642.6" y="241.7" text-anchor="middle" font-size="14.6" fill="#1A1A1A">R_U</text>
<line x1="544.7" x2="549.1" y1="336.80" y2="336.80" stroke="#333" stroke-width="1.7"/>
<text x="541.3" y="343.4" text-anchor="end" font-size="14.6" fill="#4D4D4D">1</text>
<line x1="544.7" x2="549.1" y1="296.80" y2="296.80" stroke="#333" stroke-width="1.7"/>
<text x="541.3" y="303.4" text-anchor="end" font-size="14.6" fill="#4D4D4D">2</text>
<line x1="544.7" x2="549.1" y1="256.80" y2="256.80" stroke="#333" stroke-width="1.7"/>
<text x="541.3" y="263.4" text-anchor="end" font-size="14.6" fill="#4D4D4D">3</text>
<rect x="101.0" y="384.2" width="187.2" height="27.9" fill="#CFCFCF"/>
<rect x="101.0" y="412.1" width="187.2" height="127.6" fill="#E2E2E2"/>
<g clip-path="url(#c6)">
<line x1="101.0" x2="288.2" y1="522.00" y2="522.00" stroke="#fff" stroke-width="0.7"/>
<line x1="101.0" x2="288.2" y1="496.85" y2="496.85" stroke="#fff" stroke-width="0.7"/>
<line x1="101.0" x2="288.2" y1="471.30" y2="471.30" stroke="#fff" stroke-width="0.7"/>
<line x1="101.0" x2="288.2" y1="446.20" y2="446.20" stroke="#fff" stroke-width="0.7"/>
<line x1="101.0" x2="288.2" y1="421.60" y2="421.60" stroke="#fff" stroke-width="0.7"/>
<line x1="133.47" x2="133.47" y1="412.1" y2="539.7" stroke="#fff" stroke-width="0.7"/>
<line x1="181.03" x2="181.03" y1="412.1" y2="539.7" stroke="#fff" stroke-width="0.7"/>
<line x1="228.57" x2="228.57" y1="412.1" y2="539.7" stroke="#fff" stroke-width="0.7"/>
<line x1="276.12" x2="276.12" y1="412.1" y2="539.7" stroke="#fff" stroke-width="0.7"/>
<line x1="101.0" x2="288.2" y1="534.40" y2="534.40" stroke="#fff" stroke-width="0.95"/>
<line x1="101.0" x2="288.2" y1="509.60" y2="509.60" stroke="#fff" stroke-width="0.95"/>
<line x1="101.0" x2="288.2" y1="484.10" y2="484.10" stroke="#fff" stroke-width="0.95"/>
<line x1="101.0" x2="288.2" y1="458.50" y2="458.50" stroke="#fff" stroke-width="0.95"/>
<line x1="101.0" x2="288.2" y1="433.90" y2="433.90" stroke="#fff" stroke-width="0.95"/>
<line x1="109.70" x2="109.70" y1="412.1" y2="539.7" stroke="#fff" stroke-width="0.95"/>
<line x1="157.25" x2="157.25" y1="412.1" y2="539.7" stroke="#fff" stroke-width="0.95"/>
<line x1="204.80" x2="204.80" y1="412.1" y2="539.7" stroke="#fff" stroke-width="0.95"/>
<line x1="252.35" x2="252.35" y1="412.1" y2="539.7" stroke="#fff" stroke-width="0.95"/>
<polyline points="109.5,532.5 128.5,520.5 147.4,511.3 166.4,519.4 185.3,523.7 204.2,534.7 223.2,530.3 242.1,528.1 261.1,530.3 280.0,524.8" fill="none" stroke="#00BFC4" stroke-width="1.1" stroke-linejoin="round" stroke-linecap="butt"/>
<polyline points="109.5,531.0 128.5,518.3 147.4,510.6 166.4,520.5 185.3,513.9 204.2,524.8 223.2,523.7 242.1,527.0 261.1,529.2 280.0,521.6" fill="none" stroke="#DE8C00" stroke-width="1.1" stroke-linejoin="round" stroke-linecap="butt"/>
<polyline points="109.5,530.3 128.5,517.2 147.4,505.1 166.4,513.9 185.3,513.9 204.2,527.0 223.2,523.7 242.1,525.9 261.1,530.3 280.0,521.6" fill="none" stroke="#B79F00" stroke-width="1.1" stroke-linejoin="round" stroke-linecap="butt"/>
<polyline points="109.5,529.2 128.5,516.1 147.4,504.0 166.4,517.2 185.3,516.1 204.2,530.3 223.2,522.6 242.1,521.6 261.1,518.3 280.0,508.4" fill="none" stroke="#619CFF" stroke-width="1.1" stroke-linejoin="round" stroke-linecap="butt"/>
<polyline points="109.5,527.0 128.5,513.9 147.4,504.0 166.4,516.1 185.3,512.8 204.2,528.1 223.2,522.6 242.1,524.8 261.1,520.5 280.0,511.7" fill="none" stroke="#7CAE00" stroke-width="1.1" stroke-linejoin="round" stroke-linecap="butt"/>
<polyline points="109.5,524.8 128.5,510.6 147.4,498.6 166.4,511.3 185.3,508.4 204.2,525.9 223.2,519.4 242.1,520.5 261.1,518.3 280.0,516.1" fill="none" stroke="#ED813E" stroke-width="1.1" stroke-linejoin="round" stroke-linecap="butt"/>
<polyline points="109.5,523.7 128.5,509.5 147.4,498.6 166.4,508.4 185.3,505.1 204.2,523.7 223.2,516.1 242.1,516.1 261.1,513.9 280.0,502.9" fill="none" stroke="#49B500" stroke-width="1.1" stroke-linejoin="round" stroke-linecap="butt"/>
<polyline points="109.5,522.6 128.5,508.4 147.4,497.5 166.4,502.9 185.3,501.8 204.2,522.6 223.2,516.1 242.1,515.6 261.1,512.8 280.0,505.1" fill="none" stroke="#00B4F0" stroke-width="1.1" stroke-linejoin="round" stroke-linecap="butt"/>
<polyline points="109.5,520.5 128.5,507.3 147.4,495.3 166.4,507.3 185.3,502.9 204.2,522.6 223.2,513.9 242.1,513.9 261.1,516.1 280.0,507.3" fill="none" stroke="#F8766D" stroke-width="1.1" stroke-linejoin="round" stroke-linecap="butt"/>
<polyline points="109.5,518.3 128.5,504.0 147.4,494.2 166.4,505.1 185.3,501.8 204.2,521.6 223.2,513.9 242.1,513.5 261.1,511.7 280.0,499.7" fill="none" stroke="#FF61CC" stroke-width="1.1" stroke-linejoin="round" stroke-linecap="butt"/>
<polyline points="109.5,519.4 128.5,505.1 147.4,493.1 166.4,506.2 185.3,504.0 204.2,520.5 223.2,512.8 242.1,512.8 261.1,510.6 280.0,498.6" fill="none" stroke="#FF64B0" stroke-width="1.1" stroke-linejoin="round" stroke-linecap="butt"/>
<polyline points="109.5,517.2 128.5,502.9 147.4,493.1 166.4,496.8 185.3,498.6 204.2,519.4 223.2,512.8 242.1,509.5 261.1,498.6 280.0,482.8" fill="none" stroke="#00A9FF" stroke-width="1.1" stroke-linejoin="round" stroke-linecap="butt"/>
<polyline points="109.5,515.0 128.5,496.4 147.4,485.4 166.4,493.1 185.3,482.1 204.2,509.5 223.2,506.2 242.1,507.3 261.1,507.3 280.0,492.0" fill="none" stroke="#00BA38" stroke-width="1.1" stroke-linejoin="round" stroke-linecap="butt"/>
<polyline points="109.5,513.9 128.5,492.0 147.4,477.8 166.4,493.7 185.3,488.7 204.2,515.6 223.2,513.9 242.1,511.7 261.1,494.2 280.0,483.2" fill="none" stroke="#00C08B" stroke-width="1.1" stroke-linejoin="round" stroke-linecap="butt"/>
<polyline points="109.5,499.7 128.5,482.1 147.4,471.2 166.4,493.1 185.3,485.4 204.2,504.0 223.2,498.6 242.1,494.2 261.1,485.4 280.0,490.9" fill="none" stroke="#FF6C91" stroke-width="1.1" stroke-linejoin="round" stroke-linecap="butt"/>
<polyline points="109.5,507.3 128.5,486.5 147.4,472.3 166.4,486.5 185.3,485.0 204.2,490.9 223.2,485.4 242.1,489.8 261.1,495.3 280.0,487.6" fill="none" stroke="#C77CFF" stroke-width="1.1" stroke-linejoin="round" stroke-linecap="butt"/>
<polyline points="109.5,500.8 128.5,475.6 147.4,451.5 166.4,463.5 185.3,457.0 204.2,490.9 223.2,485.4 242.1,488.7 261.1,493.1 280.0,488.7" fill="none" stroke="#9F8CFF" stroke-width="1.1" stroke-linejoin="round" stroke-linecap="butt"/>
<polyline points="109.5,498.6 128.5,470.1 147.4,454.8 166.4,471.2 185.3,450.4 204.2,486.5 223.2,492.0 242.1,496.4 261.1,500.8 280.0,490.9" fill="none" stroke="#9DA700" stroke-width="1.1" stroke-linejoin="round" stroke-linecap="butt"/>
<polyline points="109.5,494.2 128.5,465.7 147.4,451.5 166.4,463.5 185.3,464.6 204.2,483.2 223.2,472.3 242.1,482.1 261.1,470.1 280.0,464.6" fill="none" stroke="#00C1A9" stroke-width="1.1" stroke-linejoin="round" stroke-linecap="butt"/>
<polyline points="109.5,496.4 128.5,458.1 147.4,424.1 166.4,442.7 185.3,443.8 204.2,475.6 223.2,463.5 242.1,476.7 261.1,482.1 280.0,477.8" fill="none" stroke="#00BE67" stroke-width="1.1" stroke-linejoin="round" stroke-linecap="butt"/>
<polyline points="109.5,486.5 128.5,458.1 147.4,430.7 166.4,455.9 185.3,439.5 204.2,474.5 223.2,465.7 242.1,469.0 261.1,474.5 280.0,464.6" fill="none" stroke="#F564E3" stroke-width="1.1" stroke-linejoin="round" stroke-linecap="butt"/>
<polyline points="109.5,485.4 128.5,457.0 147.4,431.8 166.4,441.6 185.3,432.9 204.2,454.8 223.2,451.5 242.1,470.1 261.1,447.1 280.0,437.3" fill="none" stroke="#E36EF6" stroke-width="1.1" stroke-linejoin="round" stroke-linecap="butt"/>
<polyline points="109.5,495.3 128.5,454.8 147.4,440.6 166.4,450.4 185.3,438.4 204.2,473.4 223.2,438.4 242.1,438.4 261.1,442.1 280.0,418.7" fill="none" stroke="#CD9600" stroke-width="1.1" stroke-linejoin="round" stroke-linecap="butt"/>
<polyline points="109.5,469.0 128.5,446.0 147.4,424.1 166.4,451.5 185.3,450.4 204.2,483.2 223.2,482.1 242.1,482.1 261.1,471.2 280.0,469.0" fill="none" stroke="#00BBDC" stroke-width="1.1" stroke-linejoin="round" stroke-linecap="butt"/>
</g>
<text x="194.6" y="404.7" text-anchor="middle" font-size="14.6" fill="#1A1A1A">R_S80S20</text>
<line x1="96.6" x2="101.0" y1="534.40" y2="534.40" stroke="#333" stroke-width="1.7"/>
<text x="93.2" y="540.6" text-anchor="end" font-size="14.6" fill="#4D4D4D">0.4</text>
<line x1="96.6" x2="101.0" y1="509.60" y2="509.60" stroke="#333" stroke-width="1.7"/>
<text x="93.2" y="515.8" text-anchor="end" font-size="14.6" fill="#4D4D4D">0.6</text>
<line x1="96.6" x2="101.0" y1="484.10" y2="484.10" stroke="#333" stroke-width="1.7"/>
<text x="93.2" y="490.3" text-anchor="end" font-size="14.6" fill="#4D4D4D">0.8</text>
<line x1="96.6" x2="101.0" y1="458.50" y2="458.50" stroke="#333" stroke-width="1.7"/>
<text x="93.2" y="464.7" text-anchor="end" font-size="14.6" fill="#4D4D4D">1.0</text>
<line x1="96.6" x2="101.0" y1="433.90" y2="433.90" stroke="#333" stroke-width="1.7"/>
<text x="93.2" y="440.1" text-anchor="end" font-size="14.6" fill="#4D4D4D">1.2</text>
<line x1="109.70" x2="109.70" y1="539.7" y2="544.3000000000001" stroke="#333" stroke-width="1.7"/>
<text x="109.7" y="560.9" text-anchor="middle" font-size="14.6" fill="#4D4D4D">2010.0</text>
<line x1="157.25" x2="157.25" y1="539.7" y2="544.3000000000001" stroke="#333" stroke-width="1.7"/>
<text x="157.2" y="560.9" text-anchor="middle" font-size="14.6" fill="#4D4D4D">2012.5</text>
<line x1="204.80" x2="204.80" y1="539.7" y2="544.3000000000001" stroke="#333" stroke-width="1.7"/>
<text x="204.8" y="560.9" text-anchor="middle" font-size="14.6" fill="#4D4D4D">2015.0</text>
<line x1="252.35" x2="252.35" y1="539.7" y2="544.3000000000001" stroke="#333" stroke-width="1.7"/>
<text x="252.4" y="560.9" text-anchor="middle" font-size="14.6" fill="#4D4D4D">2017.5</text>
<rect x="324.5" y="384.2" width="188.3" height="27.9" fill="#CFCFCF"/>
<rect x="324.5" y="412.1" width="188.3" height="127.6" fill="#E2E2E2"/>
<g clip-path="url(#c7)">
<line x1="324.5" x2="512.8" y1="519.30" y2="519.30" stroke="#fff" stroke-width="0.7"/>
<line x1="324.5" x2="512.8" y1="479.50" y2="479.50" stroke="#fff" stroke-width="0.7"/>
<line x1="324.5" x2="512.8" y1="439.15" y2="439.15" stroke="#fff" stroke-width="0.7"/>
<line x1="357.97" x2="357.97" y1="412.1" y2="539.7" stroke="#fff" stroke-width="0.7"/>
<line x1="405.12" x2="405.12" y1="412.1" y2="539.7" stroke="#fff" stroke-width="0.7"/>
<line x1="452.27" x2="452.27" y1="412.1" y2="539.7" stroke="#fff" stroke-width="0.7"/>
<line x1="499.42" x2="499.42" y1="412.1" y2="539.7" stroke="#fff" stroke-width="0.7"/>
<line x1="324.5" x2="512.8" y1="499.40" y2="499.40" stroke="#fff" stroke-width="0.95"/>
<line x1="324.5" x2="512.8" y1="459.60" y2="459.60" stroke="#fff" stroke-width="0.95"/>
<line x1="324.5" x2="512.8" y1="418.70" y2="418.70" stroke="#fff" stroke-width="0.95"/>
<line x1="334.40" x2="334.40" y1="412.1" y2="539.7" stroke="#fff" stroke-width="0.95"/>
<line x1="381.55" x2="381.55" y1="412.1" y2="539.7" stroke="#fff" stroke-width="0.95"/>
<line x1="428.70" x2="428.70" y1="412.1" y2="539.7" stroke="#fff" stroke-width="0.95"/>
<line x1="475.85" x2="475.85" y1="412.1" y2="539.7" stroke="#fff" stroke-width="0.95"/>
<polyline points="371.7,533.2 390.7,469.0 409.6,471.2 428.6,470.1 447.5,465.7 466.4,473.4 485.4,467.9 504.3,469.0" fill="none" stroke="#00C1A9" stroke-width="1.1" stroke-linejoin="round" stroke-linecap="butt"/>
<polyline points="333.9,438.4 352.8,462.4 371.7,450.4 390.7,464.6 409.6,472.3 428.6,470.1 447.5,462.4 466.4,473.4 485.4,465.7 504.3,467.9" fill="none" stroke="#00C08B" stroke-width="1.1" stroke-linejoin="round" stroke-linecap="butt"/>
<polyline points="333.9,461.8 352.8,464.6 371.7,443.8 390.7,465.7 409.6,469.0 428.6,462.4 447.5,458.1 466.4,460.3 485.4,462.4 504.3,463.5" fill="none" stroke="#9DA700" stroke-width="1.1" stroke-linejoin="round" stroke-linecap="butt"/>
<polyline points="333.9,443.8 352.8,472.7 371.7,439.5 390.7,467.9 409.6,465.7 428.6,461.4 447.5,458.1 466.4,463.5 485.4,464.6 504.3,467.9" fill="none" stroke="#DE8C00" stroke-width="1.1" stroke-linejoin="round" stroke-linecap="butt"/>
<polyline points="333.9,475.6 352.8,461.4 371.7,447.1 390.7,465.7 409.6,459.2 428.6,454.8 447.5,463.5 466.4,475.6 485.4,467.5 504.3,470.1" fill="none" stroke="#00BBDC" stroke-width="1.1" stroke-linejoin="round" stroke-linecap="butt"/>
<polyline points="333.9,467.9 352.8,463.5 371.7,432.9 390.7,477.8 409.6,470.1 428.6,467.9 447.5,462.4 466.4,487.6 485.4,484.3 504.3,481.5" fill="none" stroke="#E36EF6" stroke-width="1.1" stroke-linejoin="round" stroke-linecap="butt"/>
<polyline points="333.9,446.0 352.8,454.8 371.7,437.3 390.7,463.5 409.6,457.0 428.6,450.4 447.5,449.3 466.4,453.7 485.4,455.9 504.3,458.1" fill="none" stroke="#CD9600" stroke-width="1.1" stroke-linejoin="round" stroke-linecap="butt"/>
<polyline points="333.9,450.4 352.8,457.0 371.7,442.7 390.7,466.8 409.6,462.4 428.6,459.2 447.5,454.8 466.4,458.1 485.4,460.3 504.3,462.4" fill="none" stroke="#B79F00" stroke-width="1.1" stroke-linejoin="round" stroke-linecap="butt"/>
<polyline points="333.9,449.3 352.8,453.7 371.7,438.4 390.7,460.3 409.6,454.8 428.6,441.6 447.5,439.5 466.4,447.1 485.4,439.5 504.3,442.7" fill="none" stroke="#7CAE00" stroke-width="1.1" stroke-linejoin="round" stroke-linecap="butt"/>
<polyline points="333.9,447.1 352.8,455.9 371.7,432.9 390.7,458.1 409.6,451.5 428.6,444.9 447.5,441.6 466.4,448.2 485.4,441.6 504.3,449.3" fill="none" stroke="#00BE67" stroke-width="1.1" stroke-linejoin="round" stroke-linecap="butt"/>
<polyline points="333.9,449.3 352.8,458.1 371.7,448.2 390.7,461.4 409.6,453.7 428.6,447.1 447.5,444.9 466.4,454.8 485.4,448.2 504.3,452.6" fill="none" stroke="#00BFC4" stroke-width="1.1" stroke-linejoin="round" stroke-linecap="butt"/>
<polyline points="333.9,436.2 352.8,449.3 371.7,434.0 390.7,460.3 409.6,448.2 428.6,441.6 447.5,443.8 466.4,450.4 485.4,446.0 504.3,458.1" fill="none" stroke="#00B4F0" stroke-width="1.1" stroke-linejoin="round" stroke-linecap="butt"/>
<polyline points="333.9,442.7 352.8,451.5 371.7,440.6 390.7,462.4 409.6,450.4 428.6,446.0 447.5,448.2 466.4,460.3 485.4,449.3 504.3,459.2" fill="none" stroke="#619CFF" stroke-width="1.1" stroke-linejoin="round" stroke-linecap="butt"/>
<polyline points="333.9,439.5 352.8,447.1 371.7,435.1 390.7,463.5 409.6,452.6 428.6,449.3 447.5,447.1 466.4,458.1 485.4,455.9 504.3,458.1" fill="none" stroke="#9F8CFF" stroke-width="1.1" stroke-linejoin="round" stroke-linecap="butt"/>
<polyline points="333.9,457.0 352.8,458.1 371.7,446.0 390.7,476.7 409.6,465.7 428.6,463.5 447.5,457.0 466.4,467.9 485.4,461.4 504.3,458.1" fill="none" stroke="#F564E3" stroke-width="1.1" stroke-linejoin="round" stroke-linecap="butt"/>
<polyline points="333.9,444.9 352.8,449.3 371.7,437.3 390.7,473.4 409.6,454.8 428.6,447.1 447.5,442.7 466.4,455.9 485.4,449.3 504.3,451.5" fill="none" stroke="#FF61CC" stroke-width="1.1" stroke-linejoin="round" stroke-linecap="butt"/>
<polyline points="333.9,441.6 352.8,450.4 371.7,436.2 390.7,469.0 409.6,460.3 428.6,448.2 447.5,438.4 466.4,453.7 485.4,447.1 504.3,450.4" fill="none" stroke="#FF64B0" stroke-width="1.1" stroke-linejoin="round" stroke-linecap="butt"/>
<polyline points="333.9,451.5 352.8,454.8 371.7,441.6 390.7,471.2 409.6,463.5 428.6,458.1 447.5,451.5 466.4,465.7 485.4,461.4 504.3,454.8" fill="none" stroke="#FF6C91" stroke-width="1.1" stroke-linejoin="round" stroke-linecap="butt"/>
<polyline points="333.9,448.2 352.8,452.6 371.7,439.5 390.7,465.7 409.6,458.1 428.6,453.7 447.5,446.0 466.4,457.0 485.4,451.5 504.3,453.7" fill="none" stroke="#ED813E" stroke-width="1.1" stroke-linejoin="round" stroke-linecap="butt"/>
<polyline points="333.9,454.8 352.8,453.7 371.7,443.8 390.7,467.9 409.6,462.4 428.6,457.0 447.5,449.3 466.4,461.4 485.4,458.1 504.3,458.1" fill="none" stroke="#F8766D" stroke-width="1.1" stroke-linejoin="round" stroke-linecap="butt"/>
<polyline points="333.9,436.8 352.8,444.9 371.7,419.3 390.7,459.2 409.6,449.3 428.6,443.8 447.5,440.6 466.4,449.3 485.4,446.0 504.3,450.4" fill="none" stroke="#C77CFF" stroke-width="1.1" stroke-linejoin="round" stroke-linecap="butt"/>
<polyline points="333.9,429.0 352.8,438.4 371.7,425.2 390.7,455.9 409.6,447.1 428.6,439.5 447.5,437.3 466.4,444.9 485.4,437.3 504.3,440.6" fill="none" stroke="#49B500" stroke-width="1.1" stroke-linejoin="round" stroke-linecap="butt"/>
<polyline points="333.9,428.5 352.8,437.7 371.7,424.1 390.7,454.8 409.6,446.0 428.6,440.6 447.5,435.1 466.4,443.8 485.4,438.4 504.3,447.1" fill="none" stroke="#00BA38" stroke-width="1.1" stroke-linejoin="round" stroke-linecap="butt"/>
<polyline points="333.9,423.7 352.8,432.9 371.7,419.8 390.7,450.4 409.6,443.8 428.6,436.2 447.5,429.0 466.4,436.2 485.4,432.5 504.3,438.4" fill="none" stroke="#00A9FF" stroke-width="1.1" stroke-linejoin="round" stroke-linecap="butt"/>
</g>
<text x="418.6" y="404.7" text-anchor="middle" font-size="14.6" fill="#1A1A1A">R_Highr</text>
<line x1="320.1" x2="324.5" y1="499.40" y2="499.40" stroke="#333" stroke-width="1.7"/>
<text x="316.7" y="505.8" text-anchor="end" font-size="14.6" fill="#4D4D4D">0.8</text>
<line x1="320.1" x2="324.5" y1="459.60" y2="459.60" stroke="#333" stroke-width="1.7"/>
<text x="316.7" y="466.0" text-anchor="end" font-size="14.6" fill="#4D4D4D">1.0</text>
<line x1="320.1" x2="324.5" y1="418.70" y2="418.70" stroke="#333" stroke-width="1.7"/>
<text x="316.7" y="425.1" text-anchor="end" font-size="14.6" fill="#4D4D4D">1.2</text>
<line x1="334.40" x2="334.40" y1="539.7" y2="544.3000000000001" stroke="#333" stroke-width="1.7"/>
<text x="334.4" y="560.9" text-anchor="middle" font-size="14.6" fill="#4D4D4D">2010.0</text>
<line x1="381.55" x2="381.55" y1="539.7" y2="544.3000000000001" stroke="#333" stroke-width="1.7"/>
<text x="381.5" y="560.9" text-anchor="middle" font-size="14.6" fill="#4D4D4D">2012.5</text>
<line x1="428.70" x2="428.70" y1="539.7" y2="544.3000000000001" stroke="#333" stroke-width="1.7"/>
<text x="428.7" y="560.9" text-anchor="middle" font-size="14.6" fill="#4D4D4D">2015.0</text>
<line x1="475.85" x2="475.85" y1="539.7" y2="544.3000000000001" stroke="#333" stroke-width="1.7"/>
<text x="475.8" y="560.9" text-anchor="middle" font-size="14.6" fill="#4D4D4D">2017.5</text>
<rect x="549.1" y="384.2" width="187.1" height="27.9" fill="#CFCFCF"/>
<rect x="549.1" y="412.1" width="187.1" height="127.6" fill="#E2E2E2"/>
<g clip-path="url(#c8)">
<line x1="549.1" x2="736.2" y1="521.50" y2="521.50" stroke="#fff" stroke-width="0.7"/>
<line x1="549.1" x2="736.2" y1="493.35" y2="493.35" stroke="#fff" stroke-width="0.7"/>
<line x1="549.1" x2="736.2" y1="465.50" y2="465.50" stroke="#fff" stroke-width="0.7"/>
<line x1="549.1" x2="736.2" y1="437.55" y2="437.55" stroke="#fff" stroke-width="0.7"/>
<line x1="581.61" x2="581.61" y1="412.1" y2="539.7" stroke="#fff" stroke-width="0.7"/>
<line x1="629.04" x2="629.04" y1="412.1" y2="539.7" stroke="#fff" stroke-width="0.7"/>
<line x1="676.46" x2="676.46" y1="412.1" y2="539.7" stroke="#fff" stroke-width="0.7"/>
<line x1="723.89" x2="723.89" y1="412.1" y2="539.7" stroke="#fff" stroke-width="0.7"/>
<line x1="549.1" x2="736.2" y1="535.70" y2="535.70" stroke="#fff" stroke-width="0.95"/>
<line x1="549.1" x2="736.2" y1="507.30" y2="507.30" stroke="#fff" stroke-width="0.95"/>
<line x1="549.1" x2="736.2" y1="479.40" y2="479.40" stroke="#fff" stroke-width="0.95"/>
<line x1="549.1" x2="736.2" y1="451.60" y2="451.60" stroke="#fff" stroke-width="0.95"/>
<line x1="549.1" x2="736.2" y1="423.50" y2="423.50" stroke="#fff" stroke-width="0.95"/>
<line x1="557.90" x2="557.90" y1="412.1" y2="539.7" stroke="#fff" stroke-width="0.95"/>
<line x1="605.32" x2="605.32" y1="412.1" y2="539.7" stroke="#fff" stroke-width="0.95"/>
<line x1="652.75" x2="652.75" y1="412.1" y2="539.7" stroke="#fff" stroke-width="0.95"/>
<line x1="700.17" x2="700.17" y1="412.1" y2="539.7" stroke="#fff" stroke-width="0.95"/>
<polyline points="557.6,529.7 576.6,533.2 595.5,531.4 614.5,531.0 633.4,529.7 652.4,528.1 671.3,525.9 690.2,525.9 709.2,524.8 728.1,524.8" fill="none" stroke="#DE8C00" stroke-width="1.1" stroke-linejoin="round" stroke-linecap="butt"/>
<polyline points="557.6,523.7 576.6,526.6 595.5,528.8 614.5,523.7 633.4,524.8 652.4,524.4 671.3,524.4 690.2,524.4 709.2,522.6 728.1,521.6" fill="none" stroke="#00BE67" stroke-width="1.1" stroke-linejoin="round" stroke-linecap="butt"/>
<polyline points="557.6,533.6 576.6,534.7 595.5,534.0 614.5,529.2 633.4,524.8 652.4,524.4 671.3,524.4 690.2,524.4 709.2,525.3 728.1,525.3" fill="none" stroke="#E36EF6" stroke-width="1.1" stroke-linejoin="round" stroke-linecap="butt"/>
<polyline points="557.6,512.8 576.6,509.5 595.5,516.1 614.5,519.4 633.4,520.9 652.4,520.0 671.3,518.3 690.2,515.6 709.2,513.9 728.1,517.2" fill="none" stroke="#00BBDC" stroke-width="1.1" stroke-linejoin="round" stroke-linecap="butt"/>
<polyline points="557.6,511.7 576.6,508.4 595.5,512.8 614.5,511.7 633.4,511.3 652.4,511.3 671.3,512.8 690.2,507.3 709.2,510.6 728.1,512.1" fill="none" stroke="#00BFC4" stroke-width="1.1" stroke-linejoin="round" stroke-linecap="butt"/>
<polyline points="557.6,507.3 576.6,505.1 595.5,511.3 614.5,512.1 633.4,511.3 652.4,511.3 671.3,509.5 690.2,507.3 709.2,506.2 728.1,510.6" fill="none" stroke="#CD9600" stroke-width="1.1" stroke-linejoin="round" stroke-linecap="butt"/>
<polyline points="557.6,502.9 576.6,496.8 595.5,498.6 614.5,500.8 633.4,505.1 652.4,506.2 671.3,506.9 690.2,504.7 709.2,504.7 728.1,507.3" fill="none" stroke="#9F8CFF" stroke-width="1.1" stroke-linejoin="round" stroke-linecap="butt"/>
<polyline points="557.6,484.3 576.6,476.7 595.5,483.2 614.5,483.2 633.4,488.7 652.4,492.0 671.3,497.5 690.2,490.9 709.2,484.3 728.1,494.2" fill="none" stroke="#9DA700" stroke-width="1.1" stroke-linejoin="round" stroke-linecap="butt"/>
<polyline points="557.6,482.1 576.6,474.9 595.5,486.5 614.5,490.9 633.4,499.7 652.4,500.8 671.3,504.0 690.2,500.8 709.2,498.1 728.1,506.2" fill="none" stroke="#C77CFF" stroke-width="1.1" stroke-linejoin="round" stroke-linecap="butt"/>
<polyline points="557.6,478.9 576.6,471.2 595.5,478.9 614.5,490.9 633.4,505.1 652.4,506.2 671.3,509.5 690.2,506.2 709.2,504.0 728.1,507.3" fill="none" stroke="#F564E3" stroke-width="1.1" stroke-linejoin="round" stroke-linecap="butt"/>
<polyline points="557.6,464.6 576.6,455.9 595.5,469.0 614.5,476.7 633.4,487.6 652.4,492.4 671.3,495.3 690.2,489.8 709.2,484.3 728.1,495.3" fill="none" stroke="#49B500" stroke-width="1.1" stroke-linejoin="round" stroke-linecap="butt"/>
<polyline points="557.6,465.7 576.6,454.8 595.5,467.9 614.5,469.0 633.4,479.3 652.4,484.3 671.3,490.2 690.2,482.1 709.2,474.5 728.1,488.7" fill="none" stroke="#00BE67" stroke-width="1.1" stroke-linejoin="round" stroke-linecap="butt"/>
<polyline points="557.6,465.7 576.6,458.1 595.5,468.4 614.5,471.2 633.4,485.4 652.4,487.6 671.3,491.6 690.2,485.4 709.2,480.0 728.1,491.6" fill="none" stroke="#ED813E" stroke-width="1.1" stroke-linejoin="round" stroke-linecap="butt"/>
<polyline points="557.6,462.4 576.6,451.5 595.5,462.4 614.5,465.7 633.4,478.9 652.4,482.1 671.3,486.5 690.2,481.1 709.2,470.5 728.1,484.3" fill="none" stroke="#F8766D" stroke-width="1.1" stroke-linejoin="round" stroke-linecap="butt"/>
<polyline points="557.6,458.1 576.6,454.8 595.5,458.1 614.5,463.5 633.4,477.8 652.4,482.1 671.3,488.7 690.2,481.1 709.2,476.7 728.1,487.6" fill="none" stroke="#00C1A9" stroke-width="1.1" stroke-linejoin="round" stroke-linecap="butt"/>
<polyline points="557.6,455.9 576.6,446.0 595.5,455.9 614.5,462.4 633.4,476.7 652.4,481.1 671.3,486.5 690.2,477.8 709.2,469.0 728.1,486.5" fill="none" stroke="#00BA38" stroke-width="1.1" stroke-linejoin="round" stroke-linecap="butt"/>
<polyline points="557.6,449.3 576.6,438.4 595.5,450.4 614.5,459.6 633.4,474.5 652.4,479.3 671.3,485.4 690.2,476.2 709.2,468.4 728.1,485.4" fill="none" stroke="#00C08B" stroke-width="1.1" stroke-linejoin="round" stroke-linecap="butt"/>
<polyline points="557.6,446.0 576.6,434.0 595.5,444.9 614.5,452.6 633.4,469.7 652.4,474.9 671.3,482.1 690.2,472.7 709.2,465.7 728.1,483.2" fill="none" stroke="#FF6C91" stroke-width="1.1" stroke-linejoin="round" stroke-linecap="butt"/>
<polyline points="557.6,445.6 576.6,431.8 595.5,443.8 614.5,453.7 633.4,470.1 652.4,476.2 671.3,483.2 690.2,473.4 709.2,465.7 728.1,484.3" fill="none" stroke="#00B4F0" stroke-width="1.1" stroke-linejoin="round" stroke-linecap="butt"/>
<polyline points="557.6,444.9 576.6,430.7 595.5,442.7 614.5,451.5 633.4,468.4 652.4,474.5 671.3,481.5 690.2,472.3 709.2,464.6 728.1,483.2" fill="none" stroke="#00A9FF" stroke-width="1.1" stroke-linejoin="round" stroke-linecap="butt"/>
<polyline points="557.6,443.8 576.6,432.9 595.5,443.8 614.5,451.5 633.4,469.0 652.4,474.0 671.3,481.5 690.2,471.2 709.2,463.5 728.1,482.1" fill="none" stroke="#FF64B0" stroke-width="1.1" stroke-linejoin="round" stroke-linecap="butt"/>
<polyline points="557.6,443.8 576.6,429.6 595.5,440.6 614.5,446.0 633.4,466.2 652.4,472.3 671.3,480.0 690.2,470.1 709.2,462.4 728.1,481.1" fill="none" stroke="#619CFF" stroke-width="1.1" stroke-linejoin="round" stroke-linecap="butt"/>
<polyline points="557.6,440.6 576.6,426.8 595.5,441.6 614.5,449.3 633.4,465.7 652.4,471.2 671.3,477.8 690.2,467.5 709.2,460.3 728.1,477.8" fill="none" stroke="#7CAE00" stroke-width="1.1" stroke-linejoin="round" stroke-linecap="butt"/>
<polyline points="557.6,438.4 576.6,427.4 595.5,437.3 614.5,447.1 633.4,465.7 652.4,471.2 671.3,478.9 690.2,469.0 709.2,461.8 728.1,480.0" fill="none" stroke="#FF61CC" stroke-width="1.1" stroke-linejoin="round" stroke-linecap="butt"/>
<polyline points="557.6,434.0 576.6,418.7 595.5,435.1 614.5,443.8 633.4,463.5 652.4,469.7 671.3,476.7 690.2,467.5 709.2,459.2 728.1,477.8" fill="none" stroke="#B79F00" stroke-width="1.1" stroke-linejoin="round" stroke-linecap="butt"/>
</g>
<text x="642.6" y="404.7" text-anchor="middle" font-size="14.6" fill="#1A1A1A">R_CC</text>
<line x1="544.7" x2="549.1" y1="535.70" y2="535.70" stroke="#333" stroke-width="1.7"/>
<text x="541.3" y="542.0" text-anchor="end" font-size="14.6" fill="#4D4D4D">0</text>
<line x1="544.7" x2="549.1" y1="507.30" y2="507.30" stroke="#333" stroke-width="1.7"/>
<text x="541.3" y="513.6" text-anchor="end" font-size="14.6" fill="#4D4D4D">2</text>
<line x1="544.7" x2="549.1" y1="479.40" y2="479.40" stroke="#333" stroke-width="1.7"/>
<text x="541.3" y="485.7" text-anchor="end" font-size="14.6" fill="#4D4D4D">4</text>
<line x1="544.7" x2="549.1" y1="451.60" y2="451.60" stroke="#333" stroke-width="1.7"/>
<text x="541.3" y="457.9" text-anchor="end" font-size="14.6" fill="#4D4D4D">6</text>
<line x1="544.7" x2="549.1" y1="423.50" y2="423.50" stroke="#333" stroke-width="1.7"/>
<text x="541.3" y="429.8" text-anchor="end" font-size="14.6" fill="#4D4D4D">8</text>
<line x1="557.90" x2="557.90" y1="539.7" y2="544.3000000000001" stroke="#333" stroke-width="1.7"/>
<text x="557.9" y="560.9" text-anchor="middle" font-size="14.6" fill="#4D4D4D">2010.0</text>
<line x1="605.32" x2="605.32" y1="539.7" y2="544.3000000000001" stroke="#333" stroke-width="1.7"/>
<text x="605.3" y="560.9" text-anchor="middle" font-size="14.6" fill="#4D4D4D">2012.5</text>
<line x1="652.75" x2="652.75" y1="539.7" y2="544.3000000000001" stroke="#333" stroke-width="1.7"/>
<text x="652.8" y="560.9" text-anchor="middle" font-size="14.6" fill="#4D4D4D">2015.0</text>
<line x1="700.17" x2="700.17" y1="539.7" y2="544.3000000000001" stroke="#333" stroke-width="1.7"/>
<text x="700.2" y="560.9" text-anchor="middle" font-size="14.6" fill="#4D4D4D">2017.5</text>
<text x="419.2" y="580.6" text-anchor="middle" font-size="17.2" fill="#000">year</text>
<text transform="translate(66.9,312.3) rotate(-90)" text-anchor="middle" font-size="17.2" fill="#000">value</text>
<text x="761.8" y="153.8" font-size="18.3" textLength="12.6" lengthAdjust="spacingAndGlyphs" fill="#000">id</text>
<rect x="762.1" y="163.20" width="27" height="323.52" fill="#EBEBEB"/>
<line x1="764.8" x2="786.4" y1="177.58" y2="177.58" stroke="#F8766D" stroke-width="1.5"/>
<text x="797.3" y="184.2" font-size="14.6" fill="#000">LT_Austria</text>
<line x1="764.8" x2="786.4" y1="204.54" y2="204.54" stroke="#ED813E" stroke-width="1.5"/>
<text x="797.3" y="211.1" font-size="14.6" fill="#000">LT_Belgium</text>
<line x1="764.8" x2="786.4" y1="231.50" y2="231.50" stroke="#DE8C00" stroke-width="1.5"/>
<text x="797.3" y="238.1" font-size="14.6" fill="#000">LT_Bulgaria</text>
<line x1="764.8" x2="786.4" y1="258.46" y2="258.46" stroke="#CD9600" stroke-width="1.5"/>
<text x="797.3" y="265.1" font-size="14.6" fill="#000">LT_Czechia</text>
<line x1="764.8" x2="786.4" y1="285.42" y2="285.42" stroke="#B79F00" stroke-width="1.5"/>
<text x="797.3" y="292.0" font-size="14.6" fill="#000">LT_Denmark</text>
<line x1="764.8" x2="786.4" y1="312.38" y2="312.38" stroke="#9DA700" stroke-width="1.5"/>
<text x="797.3" y="319.0" font-size="14.6" fill="#000">LT_Estonia</text>
<line x1="764.8" x2="786.4" y1="339.34" y2="339.34" stroke="#7CAE00" stroke-width="1.5"/>
<text x="797.3" y="345.9" font-size="14.6" fill="#000">LT_Finland</text>
<line x1="764.8" x2="786.4" y1="366.30" y2="366.30" stroke="#49B500" stroke-width="1.5"/>
<text x="797.3" y="372.9" font-size="14.6" fill="#000">LT_France</text>
<line x1="764.8" x2="786.4" y1="393.26" y2="393.26" stroke="#00BA38" stroke-width="1.5"/>
<text x="797.3" y="399.9" font-size="14.6" fill="#000">LT_Germany</text>
<line x1="764.8" x2="786.4" y1="420.22" y2="420.22" stroke="#00BE67" stroke-width="1.5"/>
<text x="797.3" y="426.8" font-size="14.6" fill="#000">LT_Greece</text>
<line x1="764.8" x2="786.4" y1="447.18" y2="447.18" stroke="#00C08B" stroke-width="1.5"/>
<text x="797.3" y="453.8" font-size="14.6" fill="#000">LT_Iceland</text>
<line x1="764.8" x2="786.4" y1="474.14" y2="474.14" stroke="#00C1A9" stroke-width="1.5"/>
<text x="797.3" y="480.7" font-size="14.6" fill="#000">LT_Ireland</text>
<rect x="890.9" y="163.20" width="27" height="323.52" fill="#EBEBEB"/>
<line x1="893.6" x2="915.2" y1="177.58" y2="177.58" stroke="#00BFC4" stroke-width="1.5"/>
<text x="926.1" y="184.2" font-size="14.6" fill="#000">LT_Italy</text>
<line x1="893.6" x2="915.2" y1="204.54" y2="204.54" stroke="#00BBDC" stroke-width="1.5"/>
<text x="926.1" y="211.1" font-size="14.6" fill="#000">LT_Latvia</text>
<line x1="893.6" x2="915.2" y1="231.50" y2="231.50" stroke="#00B4F0" stroke-width="1.5"/>
<text x="926.1" y="238.1" font-size="14.6" fill="#000">LT_Luxembourg</text>
<line x1="893.6" x2="915.2" y1="258.46" y2="258.46" stroke="#00A9FF" stroke-width="1.5"/>
<text x="926.1" y="265.1" font-size="14.6" fill="#000">LT_Netherlands</text>
<line x1="893.6" x2="915.2" y1="285.42" y2="285.42" stroke="#619CFF" stroke-width="1.5"/>
<text x="926.1" y="292.0" font-size="14.6" fill="#000">LT_Norway</text>
<line x1="893.6" x2="915.2" y1="312.38" y2="312.38" stroke="#9F8CFF" stroke-width="1.5"/>
<text x="926.1" y="319.0" font-size="14.6" fill="#000">LT_Poland</text>
<line x1="893.6" x2="915.2" y1="339.34" y2="339.34" stroke="#C77CFF" stroke-width="1.5"/>
<text x="926.1" y="345.9" font-size="14.6" fill="#000">LT_Portugal</text>
<line x1="893.6" x2="915.2" y1="366.30" y2="366.30" stroke="#E36EF6" stroke-width="1.5"/>
<text x="926.1" y="372.9" font-size="14.6" fill="#000">LT_Romania</text>
<line x1="893.6" x2="915.2" y1="393.26" y2="393.26" stroke="#F564E3" stroke-width="1.5"/>
<text x="926.1" y="399.9" font-size="14.6" fill="#000">LT_Spain</text>
<line x1="893.6" x2="915.2" y1="420.22" y2="420.22" stroke="#FF61CC" stroke-width="1.5"/>
<text x="926.1" y="426.8" font-size="14.6" fill="#000">LT_Sweden</text>
<line x1="893.6" x2="915.2" y1="447.18" y2="447.18" stroke="#FF64B0" stroke-width="1.5"/>
<text x="926.1" y="453.8" font-size="14.6" fill="#000">LT_Switzerland</text>
<line x1="893.6" x2="915.2" y1="474.14" y2="474.14" stroke="#FF6C91" stroke-width="1.5"/>
<text x="926.1" y="480.7" font-size="14.6" fill="#000">LT_UK</text>
</svg>
</body></html>
